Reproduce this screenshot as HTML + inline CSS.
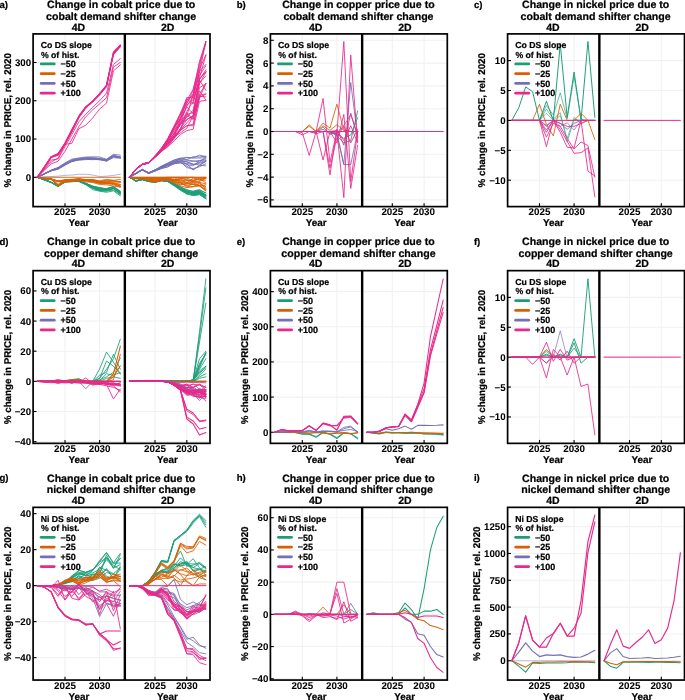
<!DOCTYPE html>
<html><head><meta charset="utf-8"><style>
html,body{margin:0;padding:0;background:#fff;}
svg{display:block;will-change:transform;text-rendering:geometricPrecision;}
</style></head><body>
<svg width="685" height="700" viewBox="0 0 685 700">
<rect width="685" height="700" fill="#fff"/>
<g transform="translate(0,0)">
<line x1="33.1" x2="210" y1="177.3" y2="177.3" stroke="#F1F1F1" stroke-width="1.1"/>
<line x1="33.1" x2="210" y1="139.03" y2="139.03" stroke="#F1F1F1" stroke-width="1.1"/>
<line x1="33.1" x2="210" y1="100.76" y2="100.76" stroke="#F1F1F1" stroke-width="1.1"/>
<line x1="33.1" x2="210" y1="62.49" y2="62.49" stroke="#F1F1F1" stroke-width="1.1"/>
<line x1="65" x2="65" y1="33.9" y2="206.6" stroke="#F1F1F1" stroke-width="1.1"/>
<line x1="155" x2="155" y1="33.9" y2="206.6" stroke="#F1F1F1" stroke-width="1.1"/>
<line x1="99.6" x2="99.6" y1="33.9" y2="206.6" stroke="#F1F1F1" stroke-width="1.1"/>
<line x1="186.8" x2="186.8" y1="33.9" y2="206.6" stroke="#F1F1F1" stroke-width="1.1"/>
<g fill="none" stroke-linejoin="round" stroke-linecap="round">
<polyline points="37.32,177.3 44.24,179.5 51.16,182.23 58.08,186 65,181.5 71.92,181.03 78.84,181.08 85.76,183.32 92.68,186.5 99.6,187.74 106.52,188.8 113.44,186.81 120.36,191.95" stroke="#1B9E77" stroke-width="0.86"/>
<polyline points="37.32,177.3 44.24,179.84 51.16,182.32 58.08,186.21 65,181.95 71.92,181.24 78.84,181.25 85.76,183.92 92.68,188.14 99.6,190.31 106.52,190.18 113.44,188.75 120.36,193.9" stroke="#1B9E77" stroke-width="0.86"/>
<polyline points="37.32,177.3 44.24,179.81 51.16,182.41 58.08,186.25 65,181.73 71.92,181.28 78.84,181.22 85.76,183.86 92.68,188.28 99.6,190.59 106.52,191.06 113.44,188.07 120.36,193.57" stroke="#1B9E77" stroke-width="0.86"/>
<polyline points="37.32,177.3 44.24,179.63 51.16,182.39 58.08,185.92 65,181.6 71.92,180.89 78.84,181.06 85.76,183.64 92.68,186.44 99.6,187.45 106.52,189.19 113.44,188.44 120.36,192.89" stroke="#1B9E77" stroke-width="0.86"/>
<polyline points="37.32,177.3 44.24,179.6 51.16,182.33 58.08,185.91 65,181.35 71.92,180.93 78.84,181.09 85.76,183.76 92.68,186.73 99.6,189.54 106.52,189.46 113.44,188.3 120.36,192.85" stroke="#1B9E77" stroke-width="0.86"/>
<polyline points="37.32,177.3 44.24,179.62 51.16,182.29 58.08,185.86 65,181.63 71.92,181.19 78.84,181.05 85.76,184.58 92.68,188.05 99.6,189.71 106.52,190.69 113.44,188.51 120.36,193.64" stroke="#1B9E77" stroke-width="0.86"/>
<polyline points="37.32,177.3 44.24,180.08 51.16,182.72 58.08,186.77 65,182.13 71.92,181.61 78.84,181.58 85.76,184.62 92.68,189.66 99.6,191.14 106.52,192.32 113.44,190.83 120.36,195.93" stroke="#1B9E77" stroke-width="0.86"/>
<polyline points="37.32,177.3 44.24,179.69 51.16,182.35 58.08,186.3 65,181.96 71.92,181.54 78.84,181.38 85.76,184.38 92.68,187.8 99.6,190.81 106.52,191.02 113.44,190.14 120.36,194.73" stroke="#1B9E77" stroke-width="0.86"/>
<polyline points="37.32,177.3 44.24,179.58 51.16,182.15 58.08,185.65 65,181.6 71.92,180.91 78.84,181.13 85.76,183.59 92.68,186.08 99.6,188.17 106.52,188.95 113.44,187.1 120.36,192.29" stroke="#1B9E77" stroke-width="0.86"/>
<polyline points="37.32,177.3 44.24,179.65 51.16,182.25 58.08,186.03 65,181.62 71.92,180.98 78.84,180.82 85.76,183.29 92.68,186.65 99.6,188.91 106.52,190.06 113.44,188.7 120.36,192.63" stroke="#1B9E77" stroke-width="0.86"/>
<polyline points="37.32,177.3 44.24,179.64 51.16,182.23 58.08,185.62 65,181.14 71.92,180.84 78.84,180.8 85.76,183.62 92.68,187.41 99.6,188.71 106.52,188.85 113.44,186.28 120.36,191.07" stroke="#1B9E77" stroke-width="0.86"/>
<polyline points="37.32,177.3 44.24,179.61 51.16,182.34 58.08,185.92 65,181.1 71.92,180.68 78.84,180.91 85.76,183.24 92.68,186 99.6,188.58 106.52,188.38 113.44,187.27 120.36,191.53" stroke="#1B9E77" stroke-width="0.86"/>
<polyline points="37.32,177.3 44.24,178.13 51.16,178.41 58.08,184.24 65,179.71 71.92,179.31 78.84,178.62 85.76,179.49 92.68,179.44 99.6,180.86 106.52,179.31 113.44,180.32 120.36,179.43" stroke="#D95F02" stroke-width="0.86"/>
<polyline points="37.32,177.3 44.24,178.54 51.16,179.28 58.08,185.74 65,181.1 71.92,180.63 78.84,179.87 85.76,180.84 92.68,181.26 99.6,183.28 106.52,182.27 113.44,183.94 120.36,185.99" stroke="#D95F02" stroke-width="0.86"/>
<polyline points="37.32,177.3 44.24,178.45 51.16,179.01 58.08,185.92 65,181.18 71.92,180.64 78.84,179.86 85.76,180.17 92.68,180.97 99.6,182.45 106.52,183.27 113.44,183.25 120.36,186.26" stroke="#D95F02" stroke-width="0.86"/>
<polyline points="37.32,177.3 44.24,178.58 51.16,179.44 58.08,185.96 65,181.98 71.92,181.71 78.84,180.66 85.76,181.87 92.68,182.51 99.6,184.5 106.52,184.89 113.44,186.02 120.36,187.2" stroke="#D95F02" stroke-width="0.86"/>
<polyline points="37.32,177.3 44.24,178.46 51.16,179.06 58.08,185.19 65,180.67 71.92,180.05 78.84,179 85.76,179.86 92.68,180.21 99.6,181.42 106.52,180.82 113.44,181.1 120.36,182.4" stroke="#D95F02" stroke-width="0.86"/>
<polyline points="37.32,177.3 44.24,178.33 51.16,178.74 58.08,184.93 65,180.32 71.92,179.8 78.84,178.77 85.76,180.08 92.68,179.98 99.6,181.39 106.52,180.3 113.44,180.46 120.36,182.14" stroke="#D95F02" stroke-width="0.86"/>
<polyline points="37.32,177.3 44.24,178.6 51.16,179.63 58.08,181.82 65,181.66 71.92,181.07 78.84,180.22 85.76,180.68 92.68,181.63 99.6,183.05 106.52,183.5 113.44,184.67 120.36,186.93" stroke="#D95F02" stroke-width="0.86"/>
<polyline points="37.32,177.3 44.24,178.59 51.16,179.36 58.08,181.68 65,180.56 71.92,180.78 78.84,180.28 85.76,181 92.68,181.91 99.6,183.5 106.52,183.95 113.44,183.37 120.36,186.08" stroke="#D95F02" stroke-width="0.86"/>
<polyline points="37.32,177.3 44.24,178.29 51.16,178.9 58.08,181.08 65,179.72 71.92,180.33 78.84,179.62 85.76,180.17 92.68,179.74 99.6,182.03 106.52,182.97 113.44,182.7 120.36,184.51" stroke="#D95F02" stroke-width="0.86"/>
<polyline points="37.32,177.3 44.24,178.47 51.16,179.1 58.08,181.31 65,180.29 71.92,180.09 78.84,179.55 85.76,180.55 92.68,180.79 99.6,182.29 106.52,182.76 113.44,183.62 120.36,184.41" stroke="#D95F02" stroke-width="0.86"/>
<polyline points="37.32,177.3 44.24,178.46 51.16,179.09 58.08,181.17 65,180.86 71.92,180.23 78.84,179.51 85.76,180.55 92.68,180.58 99.6,182.13 106.52,181.82 113.44,182.09 120.36,181.76" stroke="#D95F02" stroke-width="0.86"/>
<polyline points="37.32,177.3 44.24,178.2 51.16,178.86 58.08,180.96 65,179.92 71.92,180.39 78.84,179.52 85.76,179.88 92.68,179.8 99.6,181.38 106.52,181.86 113.44,180.92 120.36,181.7" stroke="#D95F02" stroke-width="0.86"/>
<polyline points="37.32,177.3 120.36,177.3" stroke="#D95F02" stroke-width="0.86"/>
<polyline points="37.32,177.3 44.24,173.86 51.16,170.29 58.08,168.03 65,163.89 71.92,159.76 78.84,158.49 85.76,157.92 92.68,157.75 99.6,158.3 106.52,159.74 113.44,155.46 120.36,157.11" stroke="#7570B3" stroke-width="0.86"/>
<polyline points="37.32,177.3 44.24,173.99 51.16,170.77 58.08,168.95 65,164.76 71.92,161.09 78.84,159.5 85.76,158.58 92.68,158.98 99.6,159.51 106.52,160.43 113.44,155.94 120.36,157.49" stroke="#7570B3" stroke-width="0.86"/>
<polyline points="37.32,177.3 44.24,174 51.16,170.86 58.08,168.99 65,164.35 71.92,161.6 78.84,159.39 85.76,158.44 92.68,158.57 99.6,159.14 106.52,160.16 113.44,155.71 120.36,157.18" stroke="#7570B3" stroke-width="0.86"/>
<polyline points="37.32,177.3 44.24,174.01 51.16,170.65 58.08,168.69 65,164.21 71.92,161.49 78.84,160.06 85.76,159.3 92.68,159.69 99.6,159.28 106.52,161.32 113.44,156.82 120.36,157.91" stroke="#7570B3" stroke-width="0.86"/>
<polyline points="37.32,177.3 44.24,173.63 51.16,170.05 58.08,167.34 65,162.89 71.92,159.07 78.84,157.96 85.76,157.04 92.68,156.82 99.6,156.96 106.52,159.25 113.44,154.27 120.36,155.22" stroke="#7570B3" stroke-width="0.86"/>
<polyline points="37.32,177.3 44.24,173.94 51.16,170.37 58.08,168.16 65,164.2 71.92,160.88 78.84,159.4 85.76,158.66 92.68,158.91 99.6,158.79 106.52,160.86 113.44,157.7 120.36,158.17" stroke="#7570B3" stroke-width="0.86"/>
<polyline points="37.32,177.3 44.24,173.88 51.16,170.47 58.08,168.14 65,163.65 71.92,160.54 78.84,159.16 85.76,157.67 92.68,157.79 99.6,159.14 106.52,159.44 113.44,155.34 120.36,157.02" stroke="#7570B3" stroke-width="0.86"/>
<polyline points="37.32,177.3 44.24,174.05 51.16,170.89 58.08,169.2 65,165.37 71.92,161.28 78.84,159.96 85.76,159.65 92.68,159.15 99.6,159.87 106.52,160.73 113.44,156.25 120.36,157.74" stroke="#7570B3" stroke-width="0.86"/>
<polyline points="37.32,177.3 44.24,173.94 51.16,170.44 58.08,167.87 65,163.72 71.92,160.51 78.84,159.1 85.76,158.58 92.68,158.71 99.6,159.4 106.52,160.66 113.44,156.37 120.36,157.87" stroke="#7570B3" stroke-width="0.86"/>
<polyline points="37.32,177.3 58.08,176.15 65,175.39 71.92,175 78.84,174.24 85.76,174.24 92.68,175 99.6,176.53 106.52,176.15 113.44,175.39 120.36,174.24" stroke="#7570B3" stroke-width="0.86" stroke-opacity="0.6"/>
<polyline points="37.32,177.3 44.24,167.37 51.16,156.94 58.08,153.95 65,143.27 71.92,129.63 78.84,116.73 85.76,107.16 92.68,101.01 99.6,94.33 106.52,85.75 113.44,52.95 120.36,45.02" stroke="#E7298A" stroke-width="1.03"/>
<polyline points="37.32,177.3 44.24,166.99 51.16,156.88 58.08,153.96 65,143.45 71.92,130.46 78.84,115.88 85.76,106.62 92.68,101.06 99.6,93.61 106.52,85.18 113.44,53.09 120.36,45.54" stroke="#E7298A" stroke-width="1.03"/>
<polyline points="37.32,177.3 44.24,167.57 51.16,157.39 58.08,154.23 65,144.1 71.92,131.63 78.84,117.79 85.76,107.58 92.68,101.58 99.6,93.96 106.52,86.43 113.44,54.54 120.36,46.53" stroke="#E7298A" stroke-width="1.03"/>
<polyline points="37.32,177.3 44.24,167.56 51.16,157.3 58.08,154.86 65,144.32 71.92,130.92 78.84,117.27 85.76,108.05 92.68,101.06 99.6,94.9 106.52,86.35 113.44,53.68 120.36,46.23" stroke="#E7298A" stroke-width="1.03"/>
<polyline points="37.32,177.3 44.24,167.55 51.16,157.5 58.08,155.29 65,143.88 71.92,131.34 78.84,116.98 85.76,107.47 92.68,101.29 99.6,94.14 106.52,85.77 113.44,53.43 120.36,46.7" stroke="#E7298A" stroke-width="1.03"/>
<polyline points="37.32,177.3 44.24,167.22 51.16,156.64 58.08,153.52 65,143.04 71.92,129.28 78.84,116.82 85.76,107.33 92.68,101.92 99.6,94.03 106.52,85.45 113.44,51.91 120.36,44.92" stroke="#E7298A" stroke-width="1.03"/>
<polyline points="37.32,177.3 44.24,168.88 51.16,160.08 58.08,158.93 71.92,134.44 78.84,121.81 85.76,114.15 92.68,107.27 99.6,100.76 106.52,93.11 113.44,64.4 120.36,58.66" stroke="#E7298A" stroke-width="0.86"/>
<polyline points="37.32,177.3 44.24,170.41 51.16,163.91 58.08,161.23 65,151.28 78.84,126.78 85.76,116.83 92.68,109.94 106.52,97.7 113.44,67.08 120.36,62.49" stroke="#E7298A" stroke-width="0.86"/>
<polyline points="37.32,177.3 51.16,161.99 58.08,158.17 65,144.39 71.92,143.24 78.84,128.7 85.76,125.25 92.68,117.98 99.6,109.18 106.52,103.06 113.44,70.91 120.36,64.79" stroke="#E7298A" stroke-width="0.86"/>
<polyline points="129.56,177.3 135.92,181.13 142.28,179.6 148.64,181.49 155,182.28 161.36,180.74 167.72,181.51 174.08,185.7 180.44,190.17 186.8,194.14 193.16,195.66 199.52,194.44 205.88,198.79" stroke="#1B9E77" stroke-width="0.86"/>
<polyline points="129.56,177.3 135.92,180.95 142.28,179.59 148.64,181.51 155,182.28 161.36,180.68 167.72,181.44 174.08,185.67 180.44,190.11 186.8,193.63 193.16,194.88 199.52,193.65 205.88,198.84" stroke="#1B9E77" stroke-width="0.86"/>
<polyline points="129.56,177.3 135.92,181.13 142.28,179.58 148.64,181.5 155,182.19 161.36,180.73 167.72,181.46 174.08,183.92 180.44,188.78 186.8,193.45 193.16,195.11 199.52,194.74 205.88,198.37" stroke="#1B9E77" stroke-width="0.86"/>
<polyline points="129.56,177.3 135.92,181.04 142.28,179.58 148.64,181.4 155,182.18 161.36,180.37 167.72,181.41 174.08,184.9 180.44,189.61 186.8,192.55 193.16,195.15 199.52,193.01 205.88,198.29" stroke="#1B9E77" stroke-width="0.86"/>
<polyline points="129.56,177.3 135.92,181.1 142.28,179.5 148.64,181.38 155,182.18 161.36,180.28 167.72,181.3 174.08,185.2 180.44,189.37 186.8,192.58 193.16,193.28 199.52,192.93 205.88,197.19" stroke="#1B9E77" stroke-width="0.86"/>
<polyline points="129.56,177.3 135.92,180.96 142.28,179.37 148.64,181.32 155,181.68 161.36,180.38 167.72,181.16 174.08,184.69 180.44,188.68 186.8,191.28 193.16,194.25 199.52,193.55 205.88,195.26" stroke="#1B9E77" stroke-width="0.86"/>
<polyline points="129.56,177.3 135.92,180.9 142.28,179.46 148.64,181.37 155,181.68 161.36,180.43 167.72,181.21 174.08,183.93 180.44,189.1 186.8,191.74 193.16,193.51 199.52,192.55 205.88,197.45" stroke="#1B9E77" stroke-width="0.86"/>
<polyline points="129.56,177.3 135.92,180.98 142.28,179.36 148.64,181.25 155,181.75 161.36,180.57 167.72,181.23 174.08,184.29 180.44,188.32 186.8,190.78 193.16,194.07 199.52,192.23 205.88,195.62" stroke="#1B9E77" stroke-width="0.86"/>
<polyline points="129.56,177.3 135.92,180.92 142.28,179.26 148.64,181.33 155,181.76 161.36,180.38 167.72,181.05 174.08,184.12 180.44,187.97 186.8,191.63 193.16,193.19 199.52,192.43 205.88,195.18" stroke="#1B9E77" stroke-width="0.86"/>
<polyline points="129.56,177.3 135.92,180.85 142.28,179.28 148.64,181.24 155,181.52 161.36,180.48 167.72,181.12 174.08,184.32 180.44,188.47 186.8,190.91 193.16,193.07 199.52,190.97 205.88,195.41" stroke="#1B9E77" stroke-width="0.86"/>
<polyline points="129.56,177.3 135.92,180.85 142.28,179.38 148.64,181.19 155,181.37 161.36,180.14 167.72,180.74 174.08,184.58 180.44,188.37 186.8,191.85 193.16,192.83 199.52,191.43 205.88,194.82" stroke="#1B9E77" stroke-width="0.86"/>
<polyline points="129.56,177.3 135.92,180.87 142.28,179.44 148.64,181.13 155,181.34 161.36,180.33 167.72,180.89 174.08,184.27 180.44,186.87 186.8,189.78 193.16,191.68 199.52,190.86 205.88,196.5" stroke="#1B9E77" stroke-width="0.86"/>
<polyline points="129.56,177.3 135.92,180.9 142.28,179.23 148.64,181.22 155,181.46 161.36,180.33 167.72,180.79 174.08,183.77 180.44,187.16 186.8,191.61 193.16,192.68 199.52,190.9 205.88,194.99" stroke="#1B9E77" stroke-width="0.86"/>
<polyline points="129.56,177.3 135.92,180.74 142.28,179.21 148.64,181.13 155,181.26 161.36,180.07 167.72,180.93 174.08,183.36 180.44,187.89 186.8,191.23 193.16,191.08 199.52,189.55 205.88,192.99" stroke="#1B9E77" stroke-width="0.86"/>
<polyline points="129.56,177.3 135.92,180.81 142.28,179.23 148.64,181.13 155,181.44 161.36,180.03 167.72,180.74 174.08,183.36 180.44,186.87 186.8,189.8 193.16,191.58 199.52,190.38 205.88,192.99" stroke="#1B9E77" stroke-width="0.86"/>
<polyline points="129.56,177.3 135.92,178.83 142.28,178.78 148.64,180.63 155,182.28 161.36,180.36 167.72,180.02 174.08,183.04 180.44,185.72 186.8,187.63 199.52,186.1 205.88,191.08" stroke="#D95F02" stroke-width="0.86"/>
<polyline points="129.56,177.3 135.92,178.39 142.28,178.57 148.64,179.87 155,181.23 161.36,180.59 167.72,179.58 174.08,182.24 180.44,184.89 186.8,183.17 193.16,184.5 199.52,185.59 205.88,189.43" stroke="#D95F02" stroke-width="0.86"/>
<polyline points="129.56,177.3 135.92,178.63 142.28,178.68 148.64,180.11 155,181.73 161.36,179.39 167.72,179.38 174.08,180.76 180.44,183.31 186.8,185.27 193.16,184.38 199.52,185.57 205.88,190.76" stroke="#D95F02" stroke-width="0.86"/>
<polyline points="129.56,177.3 135.92,178.59 142.28,178.53 148.64,180.25 155,182.28 161.36,179.16 167.72,179.72 174.08,182.16 180.44,182.74 186.8,185.99 193.16,186.55 199.52,183.25 205.88,186.76" stroke="#D95F02" stroke-width="0.86"/>
<polyline points="129.56,177.3 135.92,178.5 142.28,178.52 148.64,179.92 155,180.55 161.36,180.18 167.72,179.75 174.08,181.35 180.44,184.26 186.8,183.79 193.16,183.84 199.52,184.01 205.88,188.09" stroke="#D95F02" stroke-width="0.86"/>
<polyline points="129.56,177.3 135.92,178.24 142.28,178.34 148.64,180 155,179.64 161.36,178.83 167.72,178.98 174.08,180.58 180.44,181.38 186.8,187.4 193.16,182.53 199.52,185.88 205.88,184.99" stroke="#D95F02" stroke-width="0.86"/>
<polyline points="129.56,177.3 135.92,178.4 142.28,178.22 148.64,178.95 155,180.2 161.36,179.27 167.72,179.11 174.08,179.06 180.44,182.54 186.8,182.14 193.16,182.27 199.52,182.23 205.88,189.39" stroke="#D95F02" stroke-width="0.86"/>
<polyline points="129.56,177.3 135.92,178.23 142.28,178.19 148.64,179.56 155,178.63 161.36,178.46 167.72,179.23 174.08,179.71 180.44,179.5 186.8,184.03 193.16,181.25 199.52,181.45 205.88,178.41" stroke="#D95F02" stroke-width="0.86"/>
<polyline points="129.56,177.3 135.92,177.99 142.28,178.02 148.64,179.31 155,178.64 161.36,178.81 167.72,178.69 174.08,180.74 180.44,180.25 186.8,179.96 193.16,180.98 199.52,178.62 205.88,182.88" stroke="#D95F02" stroke-width="0.86"/>
<polyline points="129.56,177.3 135.92,178.15 142.28,177.97 148.64,179.92 155,178.33 161.36,179.03 167.72,178.47 174.08,177.3 180.44,181.44 186.8,180.36 193.16,181.72 199.52,182.41 205.88,183.87" stroke="#D95F02" stroke-width="0.86"/>
<polyline points="129.56,177.3 135.92,178.04 142.28,178.15 148.64,178.23 155,178.91 161.36,178.17 167.72,178.28 174.08,180.49 180.44,178.53 186.8,182.95 193.16,178.1 199.52,180.29 205.88,180.12" stroke="#D95F02" stroke-width="0.86"/>
<polyline points="129.56,177.3 135.92,178.01 142.28,177.8 148.64,178.07 155,179.07 161.36,178.71 167.72,178.1 174.08,177.74 180.44,177.95 186.8,179.93 193.16,180.66 199.52,179.1 205.88,178.06" stroke="#D95F02" stroke-width="0.86"/>
<polyline points="129.56,177.3 135.92,177.91 142.28,177.7 148.64,178.21 155,178.64 161.36,178.55 167.72,178.26 174.08,179.71 180.44,178.55 186.8,178.3 193.16,180.04 199.52,178.29 205.88,177.7" stroke="#D95F02" stroke-width="0.86"/>
<polyline points="129.56,177.3 135.92,177.73 142.28,177.68 148.64,178.16 155,177.95 161.36,177.75 167.72,177.3 174.08,177.32 180.44,177.3 193.16,177.3 199.52,179.8 205.88,178.04" stroke="#D95F02" stroke-width="0.86"/>
<polyline points="129.56,177.3 205.88,177.3" stroke="#D95F02" stroke-width="0.86"/>
<polyline points="129.56,177.3 205.88,177.3" stroke="#D95F02" stroke-width="0.86"/>
<polyline points="129.56,177.3 135.92,173.86 142.28,169.97 148.64,173.47 155,171.13 161.36,168.61 167.72,166.76 174.08,163.48 180.44,162.43 186.8,166.16 193.16,169.79 199.52,165.31 205.88,165.82" stroke="#7570B3" stroke-width="0.86"/>
<polyline points="129.56,177.3 135.92,173.67 142.28,169.93 148.64,173.24 155,170.62 161.36,168.28 167.72,166.97 174.08,163.58 180.44,163.14 186.8,163.84 193.16,169.85 199.52,165.64 205.88,161.36" stroke="#7570B3" stroke-width="0.86"/>
<polyline points="129.56,177.3 135.92,173.85 142.28,169.98 148.64,173.27 155,171.05 161.36,168.2 167.72,165.42 174.08,162.9 180.44,161.5 186.8,167.73 193.16,168.62 199.52,166.71 205.88,163.69" stroke="#7570B3" stroke-width="0.86"/>
<polyline points="129.56,177.3 135.92,173.7 142.28,169.78 148.64,173.21 155,170.46 161.36,168.1 167.72,165.2 174.08,163.86 180.44,162.13 186.8,163.46 193.16,164.59 199.52,163.35 205.88,161.48" stroke="#7570B3" stroke-width="0.86"/>
<polyline points="129.56,177.3 135.92,173.56 142.28,169.93 148.64,173.44 155,170.93 161.36,167.54 167.72,165.49 174.08,163.16 180.44,160.57 186.8,161.97 193.16,164.09 199.52,165.02 205.88,161.22" stroke="#7570B3" stroke-width="0.86"/>
<polyline points="129.56,177.3 135.92,173.34 142.28,169.8 148.64,173.04 155,170.02 161.36,168.06 167.72,164.51 174.08,161.3 180.44,159.27 186.8,164.8 193.16,165.88 199.52,160.75 205.88,158.57" stroke="#7570B3" stroke-width="0.86"/>
<polyline points="129.56,177.3 135.92,173.5 142.28,169.63 148.64,173.16 155,170.39 161.36,167.21 167.72,165.02 174.08,162.5 180.44,160.42 186.8,161.59 193.16,164.62 199.52,162.36 205.88,160.48" stroke="#7570B3" stroke-width="0.86"/>
<polyline points="129.56,177.3 135.92,173.41 142.28,169.52 148.64,172.71 155,170.22 161.36,166.99 167.72,164.29 174.08,161.97 180.44,159.09 186.8,159.86 193.16,160.88 199.52,161.96 205.88,156.99" stroke="#7570B3" stroke-width="0.86"/>
<polyline points="129.56,177.3 135.92,173.23 142.28,169.38 148.64,172.99 155,170.49 161.36,167 167.72,164.46 174.08,161.44 180.44,161.46 186.8,160.87 193.16,161.34 199.52,160.43 205.88,159.93" stroke="#7570B3" stroke-width="0.86"/>
<polyline points="129.56,177.3 135.92,173.36 142.28,169.5 148.64,172.88 155,169.81 161.36,166.72 167.72,163.52 174.08,160.47 180.44,159.14 186.8,157.57 193.16,158.04 199.52,158 205.88,157.68" stroke="#7570B3" stroke-width="0.86"/>
<polyline points="129.56,177.3 135.92,173.09 142.28,169.45 148.64,172.83 155,169.88 161.36,166.2 174.08,160.08 180.44,158.17 186.8,157.4 193.16,157.87 199.52,155.1 205.88,156.66" stroke="#7570B3" stroke-width="0.86"/>
<polyline points="129.56,177.3 135.92,173.23 142.28,169.26 148.64,172.71 155,170.25 161.36,166.2 167.72,163.23 174.08,160.08 180.44,158.17 186.8,159.62 193.16,156.63 199.52,156.88 205.88,156.14" stroke="#7570B3" stroke-width="0.86"/>
<polyline points="129.56,177.3 135.92,169.65 142.28,164.6 148.64,163.14 155,157.4 161.36,150.97 167.72,146.68 174.08,140.94 180.44,134.44 186.8,130.61 193.16,129.23 199.52,101.53 205.88,100.16" stroke="#E7298A" stroke-width="0.86"/>
<polyline points="129.56,177.3 135.92,169.61 142.28,164.46 148.64,163.13 155,157.39 161.36,151.66 167.72,146.66 174.08,138.52 180.44,129.97 186.8,125.91 193.16,124.08 199.52,96.35 205.88,96.96" stroke="#E7298A" stroke-width="0.86"/>
<polyline points="129.56,177.3 135.92,169.39 142.28,164.67 148.64,163 155,157.01 161.36,151.66 167.72,144.59 174.08,137.16 180.44,132.81 186.8,128.2 193.16,115.74 199.52,90.93 205.88,100.1" stroke="#E7298A" stroke-width="0.86"/>
<polyline points="129.56,177.3 135.92,169.5 142.28,164.39 148.64,163.07 155,157.17 161.36,151.06 167.72,145.8 174.08,138.52 180.44,130.56 186.8,125.47 193.16,125.82 199.52,97.49 205.88,94.17" stroke="#E7298A" stroke-width="0.86"/>
<polyline points="129.56,177.3 135.92,169.6 142.28,164.62 148.64,162.96 155,157.32 161.36,150.76 167.72,144.06 174.08,136.41 180.44,129.72 186.8,115.5 193.16,119.53 199.52,94.19 205.88,83.61" stroke="#E7298A" stroke-width="0.86"/>
<polyline points="129.56,177.3 135.92,169.31 142.28,164.46 148.64,162.86 155,157.09 161.36,151.11 167.72,143.52 174.08,135.43 180.44,129.87 186.8,122.93 193.16,116.06 199.52,95.31 205.88,93.78" stroke="#E7298A" stroke-width="0.86"/>
<polyline points="129.56,177.3 135.92,169.41 142.28,164.56 148.64,162.68 155,157.1 161.36,150.86 167.72,143.43 174.08,137.03 180.44,128.4 186.8,119.79 193.16,115.68 199.52,87.64 205.88,83.8" stroke="#E7298A" stroke-width="0.86"/>
<polyline points="129.56,177.3 135.92,169.39 142.28,164.3 148.64,162.82 155,156.97 161.36,150.5 167.72,144.89 174.08,138.01 180.44,128.71 186.8,112.82 193.16,118.86 199.52,97.59 205.88,83.59" stroke="#E7298A" stroke-width="0.86"/>
<polyline points="129.56,177.3 135.92,169.2 142.28,164.53 148.64,162.9 155,156.98 161.36,149.52 167.72,144.09 174.08,135.71 180.44,123.71 186.8,119.51 193.16,115.83 199.52,83.19 205.88,75.89" stroke="#E7298A" stroke-width="0.86"/>
<polyline points="129.56,177.3 135.92,169.27 142.28,164.28 148.64,162.92 155,156.66 161.36,150.69 167.72,141.82 174.08,133.88 180.44,122.67 186.8,117.59 193.16,110.01 199.52,83.61 205.88,72.2" stroke="#E7298A" stroke-width="0.86"/>
<polyline points="129.56,177.3 135.92,169.17 142.28,164.28 148.64,162.64 155,156.76 161.36,150.32 167.72,141.29 174.08,134.21 180.44,124.87 186.8,114.49 193.16,112.6 199.52,80.1 205.88,90.32" stroke="#E7298A" stroke-width="0.86"/>
<polyline points="129.56,177.3 135.92,169.11 142.28,164.21 148.64,162.63 155,156.68 161.36,149.15 167.72,141.05 174.08,137.16 180.44,119.83 186.8,106.83 193.16,113.92 199.52,78.53 205.88,71.48" stroke="#E7298A" stroke-width="0.86"/>
<polyline points="129.56,177.3 135.92,169.16 142.28,164.32 148.64,162.62 155,156.32 161.36,149.67 167.72,141.6 174.08,133.75 180.44,124.25 186.8,111.44 193.16,101.41 199.52,79.1 205.88,72.14" stroke="#E7298A" stroke-width="0.86"/>
<polyline points="129.56,177.3 135.92,169.13 142.28,164.22 148.64,162.48 155,156.52 161.36,148.96 167.72,142.87 174.08,132.94 180.44,120.1 186.8,115.74 193.16,94.57 199.52,75.21 205.88,65.91" stroke="#E7298A" stroke-width="0.86"/>
<polyline points="129.56,177.3 135.92,169.27 142.28,164.05 148.64,162.65 155,156.27 161.36,149.73 167.72,140.72 174.08,130.34 180.44,123.18 186.8,105.45 193.16,99.6 199.52,79.41 205.88,69.89" stroke="#E7298A" stroke-width="0.86"/>
<polyline points="129.56,177.3 135.92,169.11 142.28,164.12 148.64,162.54 155,156.49 161.36,149.64 167.72,140.02 174.08,128.46 180.44,118.25 186.8,106.32 193.16,96.04 199.52,71.21 205.88,64.4" stroke="#E7298A" stroke-width="0.86"/>
<polyline points="129.56,177.3 135.92,169.17 142.28,163.98 148.64,162.56 155,156.39 161.36,149.69 167.72,140.37 174.08,130.97 180.44,118.11 186.8,98.71 193.16,104.2 199.52,77.49 205.88,55.15" stroke="#E7298A" stroke-width="0.86"/>
<polyline points="129.56,177.3 135.92,169.13 142.28,163.98 148.64,162.68 155,156.13 161.36,149.19 167.72,139 174.08,127.01 180.44,119.29 186.8,100.48 193.16,89.11 199.52,63.09 205.88,43.07" stroke="#E7298A" stroke-width="0.86"/>
<polyline points="129.56,177.3 135.92,169.08 142.28,163.97 148.64,162.41 155,156.22 161.36,149.24 167.72,140.35 174.08,128.74 180.44,115.15 186.8,102.73 193.16,94.01 199.52,69.26 205.88,54.77" stroke="#E7298A" stroke-width="0.86"/>
<polyline points="129.56,177.3 135.92,169.15 142.28,164.11 148.64,162.51 155,155.9 161.36,149.22 167.72,139.17 174.08,127.74 180.44,113.89 186.8,97.51 193.16,97.84 199.52,71.97 205.88,41.44" stroke="#E7298A" stroke-width="0.86"/>
<polyline points="129.56,177.3 135.92,168.92 142.28,164.01 148.64,162.37 155,155.89 161.36,148.21 167.72,138.59 174.08,126.32 180.44,113.1 186.8,100.45 193.16,94.59 199.52,61.34 205.88,41.44" stroke="#E7298A" stroke-width="0.86"/>
<polyline points="129.56,177.3 135.92,168.88 142.28,164.08 148.64,162.37 155,155.87 161.36,148.21 167.72,139.19 174.08,126.1 180.44,114.59 186.8,103.88 193.16,90.31 199.52,66.78 205.88,41.44" stroke="#E7298A" stroke-width="0.86"/>
</g>
<text x="40.7" y="48.1" font-size="8.7" font-family="Liberation Sans, sans-serif" font-weight="bold" stroke="#000" stroke-width="0.22">Co DS slope</text>
<text x="40.9" y="57.5" font-size="8.7" font-family="Liberation Sans, sans-serif" font-weight="bold" stroke="#000" stroke-width="0.22">% of hist.</text>
<line x1="41.2" x2="54.2" y1="63.9" y2="63.9" stroke="#1B9E77" stroke-width="2.9" stroke-linecap="round"/>
<text x="60.5" y="67.1" font-size="9.0" font-family="Liberation Sans, sans-serif" font-weight="bold" stroke="#000" stroke-width="0.22">−50</text>
<line x1="41.2" x2="54.2" y1="73.65" y2="73.65" stroke="#D95F02" stroke-width="2.9" stroke-linecap="round"/>
<text x="60.5" y="76.85" font-size="9.0" font-family="Liberation Sans, sans-serif" font-weight="bold" stroke="#000" stroke-width="0.22">−25</text>
<line x1="41.2" x2="54.2" y1="83.4" y2="83.4" stroke="#7570B3" stroke-width="2.9" stroke-linecap="round"/>
<text x="60.5" y="86.6" font-size="9.0" font-family="Liberation Sans, sans-serif" font-weight="bold" stroke="#000" stroke-width="0.22">+50</text>
<line x1="41.2" x2="54.2" y1="93.15" y2="93.15" stroke="#E7298A" stroke-width="2.9" stroke-linecap="round"/>
<text x="60.5" y="96.35" font-size="9.0" font-family="Liberation Sans, sans-serif" font-weight="bold" stroke="#000" stroke-width="0.22">+100</text>
<rect x="33.1" y="33.9" width="176.9" height="172.7" fill="none" stroke="#000" stroke-width="1.7"/>
<line x1="124.85" x2="124.85" y1="33.9" y2="206.6" stroke="#000" stroke-width="2.4"/>
<line x1="33.1" x2="36.5" y1="177.3" y2="177.3" stroke="#000" stroke-width="1.1"/>
<text x="31.1" y="180.75" font-size="9.7" text-anchor="end" font-family="Liberation Sans, sans-serif" font-weight="bold" stroke="#000" stroke-width="0.05">0</text>
<line x1="33.1" x2="36.5" y1="139.03" y2="139.03" stroke="#000" stroke-width="1.1"/>
<text x="31.1" y="142.48" font-size="9.7" text-anchor="end" font-family="Liberation Sans, sans-serif" font-weight="bold" stroke="#000" stroke-width="0.05">100</text>
<line x1="33.1" x2="36.5" y1="100.76" y2="100.76" stroke="#000" stroke-width="1.1"/>
<text x="31.1" y="104.21" font-size="9.7" text-anchor="end" font-family="Liberation Sans, sans-serif" font-weight="bold" stroke="#000" stroke-width="0.05">200</text>
<line x1="33.1" x2="36.5" y1="62.49" y2="62.49" stroke="#000" stroke-width="1.1"/>
<text x="31.1" y="65.94" font-size="9.7" text-anchor="end" font-family="Liberation Sans, sans-serif" font-weight="bold" stroke="#000" stroke-width="0.05">300</text>
<line x1="65" x2="65" y1="206.6" y2="203.2" stroke="#000" stroke-width="1.1"/>
<text x="65" y="215.2" font-size="9.8" text-anchor="middle" font-family="Liberation Sans, sans-serif" font-weight="bold" stroke="#000" stroke-width="0.05">2025</text>
<line x1="155" x2="155" y1="206.6" y2="203.2" stroke="#000" stroke-width="1.1"/>
<text x="155" y="215.2" font-size="9.8" text-anchor="middle" font-family="Liberation Sans, sans-serif" font-weight="bold" stroke="#000" stroke-width="0.05">2025</text>
<line x1="99.6" x2="99.6" y1="206.6" y2="203.2" stroke="#000" stroke-width="1.1"/>
<text x="99.6" y="215.2" font-size="9.8" text-anchor="middle" font-family="Liberation Sans, sans-serif" font-weight="bold" stroke="#000" stroke-width="0.05">2030</text>
<line x1="186.8" x2="186.8" y1="206.6" y2="203.2" stroke="#000" stroke-width="1.1"/>
<text x="186.8" y="215.2" font-size="9.8" text-anchor="middle" font-family="Liberation Sans, sans-serif" font-weight="bold" stroke="#000" stroke-width="0.05">2030</text>
<text x="78.97" y="226.2" font-size="9.9" text-anchor="middle" font-family="Liberation Sans, sans-serif" font-weight="bold" stroke="#000" stroke-width="0.22">Year</text>
<text x="167.43" y="226.2" font-size="9.9" text-anchor="middle" font-family="Liberation Sans, sans-serif" font-weight="bold" stroke="#000" stroke-width="0.22">Year</text>
<text x="78.38" y="30.7" font-size="10.5" text-anchor="middle" font-family="Liberation Sans, sans-serif" font-weight="bold" stroke="#000" stroke-width="0.22">4D</text>
<text x="167.62" y="30.7" font-size="10.5" text-anchor="middle" font-family="Liberation Sans, sans-serif" font-weight="bold" stroke="#000" stroke-width="0.22">2D</text>
<text x="121.15" y="8.1" font-size="10.6" text-anchor="middle" font-family="Liberation Sans, sans-serif" font-weight="bold" stroke="#000" stroke-width="0.22">Change in cobalt price due to</text>
<text x="121.15" y="19.9" font-size="10.6" text-anchor="middle" font-family="Liberation Sans, sans-serif" font-weight="bold" stroke="#000" stroke-width="0.22">cobalt demand shifter change</text>
<text x="-0.6" y="7.8" font-size="9.6" font-family="Liberation Sans, sans-serif" font-weight="bold" stroke="#000" stroke-width="0.22">a)</text>
<text transform="translate(10.81,120.25) rotate(-90)" font-size="9.8" text-anchor="middle" font-family="Liberation Sans, sans-serif" font-weight="bold" stroke="#000" stroke-width="0.22">% change in PRICE, rel. 2020</text>
</g>
<g transform="translate(237.3,0)">
<line x1="33.1" x2="210" y1="199.9" y2="199.9" stroke="#F1F1F1" stroke-width="1.1"/>
<line x1="33.1" x2="210" y1="177.1" y2="177.1" stroke="#F1F1F1" stroke-width="1.1"/>
<line x1="33.1" x2="210" y1="154.3" y2="154.3" stroke="#F1F1F1" stroke-width="1.1"/>
<line x1="33.1" x2="210" y1="131.5" y2="131.5" stroke="#F1F1F1" stroke-width="1.1"/>
<line x1="33.1" x2="210" y1="108.7" y2="108.7" stroke="#F1F1F1" stroke-width="1.1"/>
<line x1="33.1" x2="210" y1="85.9" y2="85.9" stroke="#F1F1F1" stroke-width="1.1"/>
<line x1="33.1" x2="210" y1="63.1" y2="63.1" stroke="#F1F1F1" stroke-width="1.1"/>
<line x1="33.1" x2="210" y1="40.3" y2="40.3" stroke="#F1F1F1" stroke-width="1.1"/>
<line x1="65" x2="65" y1="33.9" y2="206.6" stroke="#F1F1F1" stroke-width="1.1"/>
<line x1="155" x2="155" y1="33.9" y2="206.6" stroke="#F1F1F1" stroke-width="1.1"/>
<line x1="99.6" x2="99.6" y1="33.9" y2="206.6" stroke="#F1F1F1" stroke-width="1.1"/>
<line x1="186.8" x2="186.8" y1="33.9" y2="206.6" stroke="#F1F1F1" stroke-width="1.1"/>
<g fill="none" stroke-linejoin="round" stroke-linecap="round">
<polyline points="37.32,131.5 120.36,131.5" stroke="#1B9E77" stroke-width="0.86"/>
<polyline points="37.32,131.5 120.36,131.5" stroke="#1B9E77" stroke-width="0.86"/>
<polyline points="37.32,131.5 120.36,131.5" stroke="#1B9E77" stroke-width="0.86"/>
<polyline points="37.32,131.5 92.68,131.5 99.6,136.06 106.52,142.9 113.44,140.62 120.36,110.98" stroke="#1B9E77" stroke-width="0.86"/>
<polyline points="37.32,131.5 92.68,131.5 99.6,133.78 106.52,138.34 113.44,134.92 120.36,117.82" stroke="#1B9E77" stroke-width="0.86"/>
<polyline points="37.32,131.5 120.36,131.5" stroke="#D95F02" stroke-width="0.86"/>
<polyline points="37.32,131.5 120.36,131.5" stroke="#D95F02" stroke-width="0.86"/>
<polyline points="37.32,131.5 65,131.5 71.92,124.89 78.84,131.5 85.76,123.06 92.68,128.08 99.6,104.14 106.52,129.79 113.44,131.5 120.36,131.5" stroke="#D95F02" stroke-width="0.86"/>
<polyline points="37.32,131.5 65,131.5 71.92,126.26 78.84,131.5 85.76,125.8 92.68,130.36 99.6,124.66 106.52,130.36 113.44,131.5 120.36,131.5" stroke="#D95F02" stroke-width="0.86"/>
<polyline points="37.32,131.5 120.36,131.5" stroke="#7570B3" stroke-width="0.86"/>
<polyline points="37.32,131.5 120.36,131.5" stroke="#7570B3" stroke-width="0.86"/>
<polyline points="37.32,131.5 78.84,131.5 85.76,129.22 92.68,133.78 99.6,132.64 106.52,164.56 113.44,82.48 120.36,137.2" stroke="#7570B3" stroke-width="0.86"/>
<polyline points="37.32,131.5 71.92,131.5 78.84,132.64 85.76,126.94 92.68,134.35 99.6,132.64 106.52,125.8 113.44,114.4 120.36,134.92" stroke="#7570B3" stroke-width="0.86"/>
<polyline points="37.32,131.5 92.68,131.5 99.6,134.92 106.52,164.56 113.44,164.56 120.36,131.5" stroke="#7570B3" stroke-width="0.86"/>
<polyline points="37.32,131.5 58.08,131.5 65,132.64 71.92,155.44 78.84,131.5 92.68,131.5 99.6,133.78 106.52,41.44 113.44,181.66 120.36,131.5" stroke="#E7298A" stroke-width="0.86"/>
<polyline points="37.32,131.5 78.84,131.5 85.76,98.44 92.68,162.28 99.6,131.5 106.52,197.62 113.44,55.12 120.36,141.76" stroke="#E7298A" stroke-width="0.86"/>
<polyline points="37.32,131.5 78.84,131.5 85.76,160 92.68,131.5 99.6,142.9 106.52,114.4 113.44,188.5 120.36,145.18" stroke="#E7298A" stroke-width="0.86"/>
<polyline points="37.32,131.5 85.76,131.5 92.68,174.82 99.6,129.22 106.52,145.18 113.44,113.26 120.36,137.2" stroke="#E7298A" stroke-width="0.86"/>
<polyline points="37.32,131.5 85.76,131.5 92.68,167.98 99.6,137.2 106.52,125.8 113.44,142.9 120.36,129.22" stroke="#E7298A" stroke-width="0.86"/>
<polyline points="37.32,131.5 58.08,131.5 65,134.92 71.92,131.5 78.84,133.78 85.76,131.5 92.68,131.5 99.6,130.36 106.52,140.62 113.44,125.8 120.36,142.9" stroke="#E7298A" stroke-width="0.86"/>
<polyline points="37.32,131.5 120.36,131.5" stroke="#E7298A" stroke-width="1.03"/>
<polyline points="129.56,131.5 205.88,131.5" stroke="#E7298A" stroke-width="0.98"/>
</g>
<text x="40.7" y="48.1" font-size="8.7" font-family="Liberation Sans, sans-serif" font-weight="bold" stroke="#000" stroke-width="0.22">Co DS slope</text>
<text x="40.9" y="57.5" font-size="8.7" font-family="Liberation Sans, sans-serif" font-weight="bold" stroke="#000" stroke-width="0.22">% of hist.</text>
<line x1="41.2" x2="54.2" y1="63.9" y2="63.9" stroke="#1B9E77" stroke-width="2.9" stroke-linecap="round"/>
<text x="60.5" y="67.1" font-size="9.0" font-family="Liberation Sans, sans-serif" font-weight="bold" stroke="#000" stroke-width="0.22">−50</text>
<line x1="41.2" x2="54.2" y1="73.65" y2="73.65" stroke="#D95F02" stroke-width="2.9" stroke-linecap="round"/>
<text x="60.5" y="76.85" font-size="9.0" font-family="Liberation Sans, sans-serif" font-weight="bold" stroke="#000" stroke-width="0.22">−25</text>
<line x1="41.2" x2="54.2" y1="83.4" y2="83.4" stroke="#7570B3" stroke-width="2.9" stroke-linecap="round"/>
<text x="60.5" y="86.6" font-size="9.0" font-family="Liberation Sans, sans-serif" font-weight="bold" stroke="#000" stroke-width="0.22">+50</text>
<line x1="41.2" x2="54.2" y1="93.15" y2="93.15" stroke="#E7298A" stroke-width="2.9" stroke-linecap="round"/>
<text x="60.5" y="96.35" font-size="9.0" font-family="Liberation Sans, sans-serif" font-weight="bold" stroke="#000" stroke-width="0.22">+100</text>
<rect x="33.1" y="33.9" width="176.9" height="172.7" fill="none" stroke="#000" stroke-width="1.7"/>
<line x1="124.85" x2="124.85" y1="33.9" y2="206.6" stroke="#000" stroke-width="2.4"/>
<line x1="33.1" x2="36.5" y1="199.9" y2="199.9" stroke="#000" stroke-width="1.1"/>
<text x="31.1" y="203.35" font-size="9.7" text-anchor="end" font-family="Liberation Sans, sans-serif" font-weight="bold" stroke="#000" stroke-width="0.05">−6</text>
<line x1="33.1" x2="36.5" y1="177.1" y2="177.1" stroke="#000" stroke-width="1.1"/>
<text x="31.1" y="180.55" font-size="9.7" text-anchor="end" font-family="Liberation Sans, sans-serif" font-weight="bold" stroke="#000" stroke-width="0.05">−4</text>
<line x1="33.1" x2="36.5" y1="154.3" y2="154.3" stroke="#000" stroke-width="1.1"/>
<text x="31.1" y="157.75" font-size="9.7" text-anchor="end" font-family="Liberation Sans, sans-serif" font-weight="bold" stroke="#000" stroke-width="0.05">−2</text>
<line x1="33.1" x2="36.5" y1="131.5" y2="131.5" stroke="#000" stroke-width="1.1"/>
<text x="31.1" y="134.95" font-size="9.7" text-anchor="end" font-family="Liberation Sans, sans-serif" font-weight="bold" stroke="#000" stroke-width="0.05">0</text>
<line x1="33.1" x2="36.5" y1="108.7" y2="108.7" stroke="#000" stroke-width="1.1"/>
<text x="31.1" y="112.15" font-size="9.7" text-anchor="end" font-family="Liberation Sans, sans-serif" font-weight="bold" stroke="#000" stroke-width="0.05">2</text>
<line x1="33.1" x2="36.5" y1="85.9" y2="85.9" stroke="#000" stroke-width="1.1"/>
<text x="31.1" y="89.35" font-size="9.7" text-anchor="end" font-family="Liberation Sans, sans-serif" font-weight="bold" stroke="#000" stroke-width="0.05">4</text>
<line x1="33.1" x2="36.5" y1="63.1" y2="63.1" stroke="#000" stroke-width="1.1"/>
<text x="31.1" y="66.55" font-size="9.7" text-anchor="end" font-family="Liberation Sans, sans-serif" font-weight="bold" stroke="#000" stroke-width="0.05">6</text>
<line x1="33.1" x2="36.5" y1="40.3" y2="40.3" stroke="#000" stroke-width="1.1"/>
<text x="31.1" y="43.75" font-size="9.7" text-anchor="end" font-family="Liberation Sans, sans-serif" font-weight="bold" stroke="#000" stroke-width="0.05">8</text>
<line x1="65" x2="65" y1="206.6" y2="203.2" stroke="#000" stroke-width="1.1"/>
<text x="65" y="215.2" font-size="9.8" text-anchor="middle" font-family="Liberation Sans, sans-serif" font-weight="bold" stroke="#000" stroke-width="0.05">2025</text>
<line x1="155" x2="155" y1="206.6" y2="203.2" stroke="#000" stroke-width="1.1"/>
<text x="155" y="215.2" font-size="9.8" text-anchor="middle" font-family="Liberation Sans, sans-serif" font-weight="bold" stroke="#000" stroke-width="0.05">2025</text>
<line x1="99.6" x2="99.6" y1="206.6" y2="203.2" stroke="#000" stroke-width="1.1"/>
<text x="99.6" y="215.2" font-size="9.8" text-anchor="middle" font-family="Liberation Sans, sans-serif" font-weight="bold" stroke="#000" stroke-width="0.05">2030</text>
<line x1="186.8" x2="186.8" y1="206.6" y2="203.2" stroke="#000" stroke-width="1.1"/>
<text x="186.8" y="215.2" font-size="9.8" text-anchor="middle" font-family="Liberation Sans, sans-serif" font-weight="bold" stroke="#000" stroke-width="0.05">2030</text>
<text x="78.97" y="226.2" font-size="9.9" text-anchor="middle" font-family="Liberation Sans, sans-serif" font-weight="bold" stroke="#000" stroke-width="0.22">Year</text>
<text x="167.43" y="226.2" font-size="9.9" text-anchor="middle" font-family="Liberation Sans, sans-serif" font-weight="bold" stroke="#000" stroke-width="0.22">Year</text>
<text x="78.38" y="30.7" font-size="10.5" text-anchor="middle" font-family="Liberation Sans, sans-serif" font-weight="bold" stroke="#000" stroke-width="0.22">4D</text>
<text x="167.62" y="30.7" font-size="10.5" text-anchor="middle" font-family="Liberation Sans, sans-serif" font-weight="bold" stroke="#000" stroke-width="0.22">2D</text>
<text x="121.15" y="8.1" font-size="10.6" text-anchor="middle" font-family="Liberation Sans, sans-serif" font-weight="bold" stroke="#000" stroke-width="0.22">Change in copper price due to</text>
<text x="121.15" y="19.9" font-size="10.6" text-anchor="middle" font-family="Liberation Sans, sans-serif" font-weight="bold" stroke="#000" stroke-width="0.22">cobalt demand shifter change</text>
<text x="-0.6" y="7.8" font-size="9.6" font-family="Liberation Sans, sans-serif" font-weight="bold" stroke="#000" stroke-width="0.22">b)</text>
<text transform="translate(15.94,120.25) rotate(-90)" font-size="9.8" text-anchor="middle" font-family="Liberation Sans, sans-serif" font-weight="bold" stroke="#000" stroke-width="0.22">% change in PRICE, rel. 2020</text>
</g>
<g transform="translate(474.5,0)">
<line x1="33.1" x2="210" y1="180.2" y2="180.2" stroke="#F1F1F1" stroke-width="1.1"/>
<line x1="33.1" x2="210" y1="150.3" y2="150.3" stroke="#F1F1F1" stroke-width="1.1"/>
<line x1="33.1" x2="210" y1="120.4" y2="120.4" stroke="#F1F1F1" stroke-width="1.1"/>
<line x1="33.1" x2="210" y1="90.5" y2="90.5" stroke="#F1F1F1" stroke-width="1.1"/>
<line x1="33.1" x2="210" y1="60.6" y2="60.6" stroke="#F1F1F1" stroke-width="1.1"/>
<line x1="65" x2="65" y1="33.9" y2="206.6" stroke="#F1F1F1" stroke-width="1.1"/>
<line x1="155" x2="155" y1="33.9" y2="206.6" stroke="#F1F1F1" stroke-width="1.1"/>
<line x1="99.6" x2="99.6" y1="33.9" y2="206.6" stroke="#F1F1F1" stroke-width="1.1"/>
<line x1="186.8" x2="186.8" y1="33.9" y2="206.6" stroke="#F1F1F1" stroke-width="1.1"/>
<g fill="none" stroke-linejoin="round" stroke-linecap="round">
<polyline points="37.32,120.4 44.24,107.84 51.16,86.91 58.08,91.7 65,120.4 71.92,101.26 78.84,120.4 85.76,43.86 92.68,117.41 99.6,71.96 106.52,120.4 113.44,41.46 120.36,117.41" stroke="#1B9E77" stroke-width="0.98"/>
<polyline points="37.32,120.4 65,120.4 71.92,105.45 78.84,115.02 85.76,92.89 92.68,118.61 99.6,76.75 106.52,119.2 113.44,120.4 120.36,120.4" stroke="#1B9E77" stroke-width="0.8" stroke-opacity="0.8"/>
<polyline points="37.32,120.4 65,120.4 71.92,109.04 78.84,119.2 85.76,112.63 92.68,141.93 99.6,119.2 106.52,120.4 120.36,120.4" stroke="#1B9E77" stroke-width="0.8" stroke-opacity="0.8"/>
<polyline points="37.32,120.4 65,120.4 71.92,113.22 78.84,120.4 85.76,115.62 92.68,138.34 99.6,117.41 106.52,123.39 113.44,120.4 120.36,120.4" stroke="#1B9E77" stroke-width="0.8" stroke-opacity="0.7"/>
<polyline points="37.32,120.4 58.08,120.4 65,104.25 71.92,124.59 78.84,135.95 85.76,104.25 92.68,120.4 99.6,120.4 106.52,113.22 113.44,120.4 120.36,139.54" stroke="#D95F02" stroke-width="0.86"/>
<polyline points="37.32,120.4 65,120.4 71.92,129.97 78.84,120.4 85.76,123.39 92.68,129.37 99.6,123.39 106.52,120.4 120.36,120.4" stroke="#7570B3" stroke-width="0.86"/>
<polyline points="37.32,120.4 65,120.4 71.92,125.18 78.84,120.4 85.76,126.38 92.68,122.79 99.6,129.97 106.52,120.4 120.36,120.4" stroke="#7570B3" stroke-width="0.86" stroke-opacity="0.8"/>
<polyline points="37.32,120.4 65,120.4 71.92,146.71 78.84,120.4 85.76,132.36 92.68,147.31 99.6,147.91 106.52,120.4 113.44,171.23 120.36,176.01" stroke="#E7298A" stroke-width="0.86"/>
<polyline points="37.32,120.4 65,120.4 71.92,132.36 78.84,120.4 85.76,129.37 99.6,153.29 106.52,152.69 113.44,147.91 120.36,196.94" stroke="#E7298A" stroke-width="0.86"/>
<polyline points="37.32,120.4 65,120.4 71.92,137.14 78.84,123.39 85.76,126.38 92.68,138.34 99.6,149.1 106.52,141.93 113.44,145.52 120.36,177.21" stroke="#E7298A" stroke-width="0.86"/>
<polyline points="37.32,120.4 65,120.4 71.92,126.38 78.84,120.4 92.68,126.38 99.6,126.38 113.44,120.4 120.36,120.4" stroke="#E7298A" stroke-width="0.86"/>
<polyline points="37.32,120.4 120.36,120.4" stroke="#E7298A" stroke-width="0.98"/>
<polyline points="129.56,120.4 205.88,120.4" stroke="#E7298A" stroke-width="0.98"/>
</g>
<text x="40.7" y="48.1" font-size="8.7" font-family="Liberation Sans, sans-serif" font-weight="bold" stroke="#000" stroke-width="0.22">Co DS slope</text>
<text x="40.9" y="57.5" font-size="8.7" font-family="Liberation Sans, sans-serif" font-weight="bold" stroke="#000" stroke-width="0.22">% of hist.</text>
<line x1="41.2" x2="54.2" y1="63.9" y2="63.9" stroke="#1B9E77" stroke-width="2.9" stroke-linecap="round"/>
<text x="60.5" y="67.1" font-size="9.0" font-family="Liberation Sans, sans-serif" font-weight="bold" stroke="#000" stroke-width="0.22">−50</text>
<line x1="41.2" x2="54.2" y1="73.65" y2="73.65" stroke="#D95F02" stroke-width="2.9" stroke-linecap="round"/>
<text x="60.5" y="76.85" font-size="9.0" font-family="Liberation Sans, sans-serif" font-weight="bold" stroke="#000" stroke-width="0.22">−25</text>
<line x1="41.2" x2="54.2" y1="83.4" y2="83.4" stroke="#7570B3" stroke-width="2.9" stroke-linecap="round"/>
<text x="60.5" y="86.6" font-size="9.0" font-family="Liberation Sans, sans-serif" font-weight="bold" stroke="#000" stroke-width="0.22">+50</text>
<line x1="41.2" x2="54.2" y1="93.15" y2="93.15" stroke="#E7298A" stroke-width="2.9" stroke-linecap="round"/>
<text x="60.5" y="96.35" font-size="9.0" font-family="Liberation Sans, sans-serif" font-weight="bold" stroke="#000" stroke-width="0.22">+100</text>
<rect x="33.1" y="33.9" width="176.9" height="172.7" fill="none" stroke="#000" stroke-width="1.7"/>
<line x1="124.85" x2="124.85" y1="33.9" y2="206.6" stroke="#000" stroke-width="2.4"/>
<line x1="33.1" x2="36.5" y1="180.2" y2="180.2" stroke="#000" stroke-width="1.1"/>
<text x="31.1" y="183.65" font-size="9.7" text-anchor="end" font-family="Liberation Sans, sans-serif" font-weight="bold" stroke="#000" stroke-width="0.05">−10</text>
<line x1="33.1" x2="36.5" y1="150.3" y2="150.3" stroke="#000" stroke-width="1.1"/>
<text x="31.1" y="153.75" font-size="9.7" text-anchor="end" font-family="Liberation Sans, sans-serif" font-weight="bold" stroke="#000" stroke-width="0.05">−5</text>
<line x1="33.1" x2="36.5" y1="120.4" y2="120.4" stroke="#000" stroke-width="1.1"/>
<text x="31.1" y="123.85" font-size="9.7" text-anchor="end" font-family="Liberation Sans, sans-serif" font-weight="bold" stroke="#000" stroke-width="0.05">0</text>
<line x1="33.1" x2="36.5" y1="90.5" y2="90.5" stroke="#000" stroke-width="1.1"/>
<text x="31.1" y="93.95" font-size="9.7" text-anchor="end" font-family="Liberation Sans, sans-serif" font-weight="bold" stroke="#000" stroke-width="0.05">5</text>
<line x1="33.1" x2="36.5" y1="60.6" y2="60.6" stroke="#000" stroke-width="1.1"/>
<text x="31.1" y="64.05" font-size="9.7" text-anchor="end" font-family="Liberation Sans, sans-serif" font-weight="bold" stroke="#000" stroke-width="0.05">10</text>
<line x1="65" x2="65" y1="206.6" y2="203.2" stroke="#000" stroke-width="1.1"/>
<text x="65" y="215.2" font-size="9.8" text-anchor="middle" font-family="Liberation Sans, sans-serif" font-weight="bold" stroke="#000" stroke-width="0.05">2025</text>
<line x1="155" x2="155" y1="206.6" y2="203.2" stroke="#000" stroke-width="1.1"/>
<text x="155" y="215.2" font-size="9.8" text-anchor="middle" font-family="Liberation Sans, sans-serif" font-weight="bold" stroke="#000" stroke-width="0.05">2025</text>
<line x1="99.6" x2="99.6" y1="206.6" y2="203.2" stroke="#000" stroke-width="1.1"/>
<text x="99.6" y="215.2" font-size="9.8" text-anchor="middle" font-family="Liberation Sans, sans-serif" font-weight="bold" stroke="#000" stroke-width="0.05">2030</text>
<line x1="186.8" x2="186.8" y1="206.6" y2="203.2" stroke="#000" stroke-width="1.1"/>
<text x="186.8" y="215.2" font-size="9.8" text-anchor="middle" font-family="Liberation Sans, sans-serif" font-weight="bold" stroke="#000" stroke-width="0.05">2030</text>
<text x="78.97" y="226.2" font-size="9.9" text-anchor="middle" font-family="Liberation Sans, sans-serif" font-weight="bold" stroke="#000" stroke-width="0.22">Year</text>
<text x="167.43" y="226.2" font-size="9.9" text-anchor="middle" font-family="Liberation Sans, sans-serif" font-weight="bold" stroke="#000" stroke-width="0.22">Year</text>
<text x="78.38" y="30.7" font-size="10.5" text-anchor="middle" font-family="Liberation Sans, sans-serif" font-weight="bold" stroke="#000" stroke-width="0.22">4D</text>
<text x="167.62" y="30.7" font-size="10.5" text-anchor="middle" font-family="Liberation Sans, sans-serif" font-weight="bold" stroke="#000" stroke-width="0.22">2D</text>
<text x="121.15" y="8.1" font-size="10.6" text-anchor="middle" font-family="Liberation Sans, sans-serif" font-weight="bold" stroke="#000" stroke-width="0.22">Change in nickel price due to</text>
<text x="121.15" y="19.9" font-size="10.6" text-anchor="middle" font-family="Liberation Sans, sans-serif" font-weight="bold" stroke="#000" stroke-width="0.22">cobalt demand shifter change</text>
<text x="-0.6" y="7.8" font-size="9.6" font-family="Liberation Sans, sans-serif" font-weight="bold" stroke="#000" stroke-width="0.22">c)</text>
<text transform="translate(10.55,120.25) rotate(-90)" font-size="9.8" text-anchor="middle" font-family="Liberation Sans, sans-serif" font-weight="bold" stroke="#000" stroke-width="0.22">% change in PRICE, rel. 2020</text>
</g>
<g transform="translate(0,236.75)">
<line x1="33.1" x2="210" y1="204.88" y2="204.88" stroke="#F1F1F1" stroke-width="1.1"/>
<line x1="33.1" x2="210" y1="174.74" y2="174.74" stroke="#F1F1F1" stroke-width="1.1"/>
<line x1="33.1" x2="210" y1="144.6" y2="144.6" stroke="#F1F1F1" stroke-width="1.1"/>
<line x1="33.1" x2="210" y1="114.46" y2="114.46" stroke="#F1F1F1" stroke-width="1.1"/>
<line x1="33.1" x2="210" y1="84.32" y2="84.32" stroke="#F1F1F1" stroke-width="1.1"/>
<line x1="33.1" x2="210" y1="54.18" y2="54.18" stroke="#F1F1F1" stroke-width="1.1"/>
<line x1="65" x2="65" y1="33.9" y2="206.6" stroke="#F1F1F1" stroke-width="1.1"/>
<line x1="155" x2="155" y1="33.9" y2="206.6" stroke="#F1F1F1" stroke-width="1.1"/>
<line x1="99.6" x2="99.6" y1="33.9" y2="206.6" stroke="#F1F1F1" stroke-width="1.1"/>
<line x1="186.8" x2="186.8" y1="33.9" y2="206.6" stroke="#F1F1F1" stroke-width="1.1"/>
<g fill="none" stroke-linejoin="round" stroke-linecap="round">
<polyline points="37.32,144.6 58.08,144.6 65,143.85 71.92,146.86 78.84,142.34 85.76,145.35 92.68,144.6 99.6,132.24 106.52,115.36 113.44,125.31 120.36,137.37" stroke="#1B9E77" stroke-width="0.86"/>
<polyline points="37.32,144.6 58.08,144.6 65,144.15 71.92,142.79 78.84,141.89 85.76,145.35 92.68,144.6 99.6,141.59 106.52,132.54 113.44,122 120.36,102.4" stroke="#1B9E77" stroke-width="0.86"/>
<polyline points="37.32,144.6 65,144.6 71.92,143.09 78.84,143.09 85.76,144.6 92.68,144.6 99.6,141.59 106.52,124.26 113.44,129.53 120.36,137.06" stroke="#1B9E77" stroke-width="0.86"/>
<polyline points="37.32,144.6 65,144.6 71.92,143.85 78.84,142.79 85.76,144.6 92.68,144.6 99.6,138.57 106.52,135.56 113.44,117.47 120.36,132.54" stroke="#1B9E77" stroke-width="0.86"/>
<polyline points="37.32,144.6 92.68,144.6 99.6,143.09 106.52,140.08 113.44,135.56 120.36,121.24" stroke="#1B9E77" stroke-width="0.86"/>
<polyline points="37.32,144.6 99.6,144.6 106.52,141.59 113.44,140.08 120.36,141.59" stroke="#1B9E77" stroke-width="0.86"/>
<polyline points="37.32,144.6 92.68,144.6 99.6,143.85 106.52,137.06 113.44,138.57 120.36,135.56" stroke="#1B9E77" stroke-width="0.86"/>
<polyline points="37.32,144.6 58.08,144.6 71.92,143.09 78.84,143.09 85.76,144.6 106.52,144.6 113.44,137.06 120.36,109.34" stroke="#D95F02" stroke-width="1.03"/>
<polyline points="37.32,144.6 106.52,144.6 113.44,140.08 120.36,129.08" stroke="#D95F02" stroke-width="1.03"/>
<polyline points="37.32,144.6 106.52,144.6 113.44,143.09 120.36,117.47" stroke="#D95F02" stroke-width="0.86"/>
<polyline points="37.32,144.6 78.84,144.6 85.76,151.98 92.68,144.6 99.6,144.6 106.52,146.11 113.44,146.11 120.36,149.12" stroke="#7570B3" stroke-width="0.86"/>
<polyline points="37.32,144.6 85.76,144.6 92.68,146.11 99.6,144.6 106.52,147.61 113.44,147.61 120.36,146.11" stroke="#7570B3" stroke-width="0.86"/>
<polyline points="37.32,144.6 51.16,144.6 58.08,142.64 65,144.6 71.92,145.35 78.84,144.6 120.36,144.6" stroke="#E7298A" stroke-width="0.86"/>
<polyline points="37.32,144.6 51.16,144.6 58.08,146.86 65,144.6 71.92,146.11 78.84,144.6 120.36,144.6" stroke="#E7298A" stroke-width="0.86"/>
<polyline points="37.32,144.6 71.92,144.6 78.84,145.35 85.76,141.28 92.68,146.86 99.6,146.11 106.52,144.6 120.36,144.6" stroke="#E7298A" stroke-width="0.86"/>
<polyline points="37.32,144.6 92.68,144.6 106.52,147.61 113.44,162.23 120.36,152.13" stroke="#E7298A" stroke-width="0.86"/>
<polyline points="37.32,144.6 85.76,144.6 92.68,146.11 99.6,146.11 113.44,149.12 120.36,155.15" stroke="#E7298A" stroke-width="0.86"/>
<polyline points="37.32,144.6 78.84,144.6 92.68,147.61 99.6,147.61 106.52,146.11 120.36,149.12" stroke="#E7298A" stroke-width="0.86"/>
<polyline points="37.32,144.6 78.84,144.6 92.68,146.11 99.6,145.35 106.52,146.86 113.44,146.11 120.36,147.61" stroke="#E7298A" stroke-width="0.86"/>
<polyline points="37.32,144.6 92.68,144.6 99.6,147.61 113.44,150.63 120.36,153.64" stroke="#E7298A" stroke-width="0.86"/>
<polyline points="37.32,144.6 85.76,144.6 92.68,148.37 106.52,145.35 113.44,148.37 120.36,146.11" stroke="#E7298A" stroke-width="0.86"/>
<polyline points="37.32,144.6 44.24,145.35 51.16,145.35 58.08,145.65 65,145.35 71.92,145.81 78.84,145.35 85.76,146.11 92.68,146.11 99.6,146.86 106.52,146.41 113.44,146.86 120.36,147.61" stroke="#E7298A" stroke-width="0.86"/>
<polyline points="37.32,144.6 51.16,145.5 58.08,145.2 65,145.81 71.92,145.35 78.84,146.11 85.76,145.65 92.68,146.86 99.6,146.11 106.52,147.61 120.36,149.12" stroke="#E7298A" stroke-width="0.86"/>
<polyline points="37.32,144.6 44.24,145.5 51.16,145.96 58.08,145.81 65,146.11 71.92,145.96 85.76,146.56 92.68,146.41 99.6,147.31 106.52,146.86 113.44,147.31 120.36,148.37" stroke="#E7298A" stroke-width="0.86"/>
<polyline points="37.32,144.6 120.36,144.6" stroke="#E7298A" stroke-width="0.98"/>
<polyline points="129.56,144.6 205.88,144.6" stroke="#1B9E77" stroke-width="0.86"/>
<polyline points="129.56,144.6 205.88,144.6" stroke="#1B9E77" stroke-width="0.86"/>
<polyline points="129.56,144.6 155,144.6 161.36,143.85 167.72,144.15 174.08,144.6 193.16,144.6 199.52,94.87 205.88,42.12" stroke="#1B9E77" stroke-width="0.86"/>
<polyline points="129.56,144.6 155,144.6 161.36,143.85 167.72,144.15 174.08,144.6 186.8,144.6 193.16,143.85 199.52,99.39 205.88,51.17" stroke="#1B9E77" stroke-width="0.86"/>
<polyline points="129.56,144.6 155,144.6 161.36,143.85 167.72,144.15 174.08,144.6 193.16,144.6 205.88,66.24" stroke="#1B9E77" stroke-width="0.86"/>
<polyline points="129.56,144.6 155,144.6 161.36,143.85 167.72,144.15 174.08,144.6 186.8,144.6 193.16,143.09 199.52,122 205.88,114.46" stroke="#1B9E77" stroke-width="0.86"/>
<polyline points="129.56,144.6 155,144.6 161.36,143.85 167.72,144.15 174.08,144.6 186.8,144.6 193.16,143.85 199.52,126.52 205.88,117.47" stroke="#1B9E77" stroke-width="0.86"/>
<polyline points="129.56,144.6 155,144.6 161.36,143.85 167.72,144.15 174.08,144.6 193.16,144.6 199.52,132.54 205.88,122" stroke="#1B9E77" stroke-width="0.86"/>
<polyline points="129.56,144.6 155,144.6 161.36,143.85 167.72,144.15 174.08,144.6 186.8,144.6 193.16,143.09 199.52,137.06 205.88,129.53" stroke="#1B9E77" stroke-width="0.86"/>
<polyline points="129.56,144.6 155,144.6 161.36,143.85 167.72,144.15 174.08,144.6 193.16,144.6 205.88,132.54" stroke="#1B9E77" stroke-width="0.86"/>
<polyline points="129.56,144.6 155,144.6 161.36,143.85 167.72,144.15 174.08,144.6 193.16,144.6 199.52,141.59 205.88,140.08" stroke="#1B9E77" stroke-width="0.86"/>
<polyline points="129.56,144.6 155,144.6 161.36,143.85 167.72,144.15 174.08,144.6 186.8,144.6 193.16,143.09 199.52,131.04 205.88,115.97" stroke="#1B9E77" stroke-width="0.86"/>
<polyline points="129.56,144.6 155,144.6 161.36,143.85 167.72,144.15 174.08,144.6 193.16,144.6 199.52,140.08 205.88,137.06" stroke="#1B9E77" stroke-width="0.86"/>
<polyline points="129.56,144.6 155,144.6 161.36,143.85 167.72,144.15 174.08,144.6 186.8,144.6 193.16,143.85 199.52,129.53 205.88,115.97" stroke="#1B9E77" stroke-width="0.86"/>
<polyline points="129.56,144.6 155,144.6 161.36,143.85 167.72,144.15 174.08,144.6 193.16,144.6 199.52,128.02 205.88,116.72" stroke="#1B9E77" stroke-width="0.86"/>
<polyline points="129.56,144.6 155,144.6 161.36,143.85 167.72,144.15 174.08,144.6 186.8,144.6 193.16,143.85 199.52,134.05 205.88,129.53" stroke="#1B9E77" stroke-width="0.86"/>
<polyline points="129.56,144.6 155,144.6 161.36,143.85 167.72,144.15 174.08,144.6 186.8,144.6 193.16,143.09 199.52,135.56 205.88,131.04" stroke="#1B9E77" stroke-width="0.86"/>
<polyline points="129.56,144.6 205.88,144.6" stroke="#D95F02" stroke-width="0.86"/>
<polyline points="129.56,144.6 205.88,144.6" stroke="#D95F02" stroke-width="0.86"/>
<polyline points="129.56,144.6 161.36,144.6 167.72,144.94 174.08,145.86 180.44,149.13 186.8,151.63 193.16,153.13 199.52,160.51 205.88,162" stroke="#7570B3" stroke-width="0.86"/>
<polyline points="129.56,144.6 161.36,144.6 167.72,144.93 174.08,145.95 180.44,150.21 186.8,152.51 193.16,156.04 199.52,153.84 205.88,156.81" stroke="#7570B3" stroke-width="0.86"/>
<polyline points="129.56,144.6 161.36,144.6 167.72,144.86 174.08,145.54 180.44,147.37 186.8,153.03 193.16,155.62 199.52,153.36 205.88,153.91" stroke="#7570B3" stroke-width="0.86"/>
<polyline points="129.56,144.6 161.36,144.6 167.72,144.77 174.08,145.87 180.44,147.36 186.8,150.8 193.16,147.09 199.52,152.54 205.88,152.77" stroke="#7570B3" stroke-width="0.86"/>
<polyline points="129.56,144.6 161.36,144.6 167.72,144.87 174.08,145.61 180.44,149.11 186.8,155.89 193.16,154.94 199.52,155.28 205.88,157.38" stroke="#7570B3" stroke-width="0.86"/>
<polyline points="129.56,144.6 161.36,144.6 167.72,145.06 174.08,146.82 180.44,150.58 186.8,157.7 193.16,157.68 199.52,163.78 205.88,157.62" stroke="#7570B3" stroke-width="0.86"/>
<polyline points="129.56,144.6 161.36,144.6 167.72,144.8 174.08,146.42 180.44,148.9 186.8,154.75 193.16,155.68 199.52,154.37 205.88,159.83" stroke="#7570B3" stroke-width="0.86"/>
<polyline points="129.56,144.6 161.36,144.6 167.72,144.88 174.08,146.66 180.44,149.95 186.8,150.47 193.16,152.27 199.52,157.57 205.88,157.43" stroke="#7570B3" stroke-width="0.86"/>
<polyline points="129.56,144.6 161.36,144.6 167.72,144.9 174.08,146.49 180.44,148.24 186.8,148.34 193.16,153.56 199.52,152.25 205.88,153.17" stroke="#7570B3" stroke-width="0.86"/>
<polyline points="129.56,144.6 161.36,144.6 167.72,144.98 174.08,146.29 180.44,148.6 186.8,153.58 193.16,152.86 199.52,155.78 205.88,157.29" stroke="#7570B3" stroke-width="0.86"/>
<polyline points="129.56,144.6 161.36,144.6 167.72,145 174.08,146.77 180.44,149.21 186.8,148.84 193.16,147.47 199.52,148.36 205.88,150.6" stroke="#E7298A" stroke-width="0.86"/>
<polyline points="129.56,144.6 161.36,144.6 167.72,145.18 174.08,148.64 180.44,153.33 186.8,154.78 193.16,156.06 199.52,155.64 205.88,159.16" stroke="#E7298A" stroke-width="0.86"/>
<polyline points="129.56,144.6 161.36,144.6 167.72,145.24 174.08,148.77 180.44,153.04 186.8,156.81 193.16,155.06 199.52,155.37 205.88,158.83" stroke="#E7298A" stroke-width="0.86"/>
<polyline points="129.56,144.6 161.36,144.6 167.72,145.01 174.08,147.55 180.44,150.43 186.8,152.06 193.16,157.36 199.52,156.06 205.88,154.69" stroke="#E7298A" stroke-width="0.86"/>
<polyline points="129.56,144.6 161.36,144.6 167.72,145.31 174.08,147.53 180.44,148.93 186.8,147.59 193.16,150.43 199.52,147.24 205.88,150.9" stroke="#E7298A" stroke-width="0.86"/>
<polyline points="129.56,144.6 161.36,144.6 167.72,145.27 174.08,147.89 180.44,152.01 186.8,155.75 193.16,155.55 199.52,158.07 205.88,157.77" stroke="#E7298A" stroke-width="0.86"/>
<polyline points="129.56,144.6 161.36,144.6 167.72,145.08 174.08,147.3 180.44,149.54 186.8,147.28 193.16,151.68 199.52,155.05 205.88,148.9" stroke="#E7298A" stroke-width="0.86"/>
<polyline points="129.56,144.6 161.36,144.6 167.72,145.15 174.08,148 180.44,150.47 186.8,151.86 193.16,156.94 199.52,160.62 205.88,159.68" stroke="#E7298A" stroke-width="0.86"/>
<polyline points="129.56,144.6 161.36,144.6 167.72,144.99 174.08,147.99 180.44,151.83 186.8,153.85 193.16,150.25 199.52,154.99 205.88,154.37" stroke="#E7298A" stroke-width="0.86"/>
<polyline points="129.56,144.6 161.36,144.6 167.72,144.83 174.08,146.5 180.44,149.64 186.8,152.88 193.16,153.84 199.52,155.55 205.88,159.31" stroke="#E7298A" stroke-width="0.86"/>
<polyline points="129.56,144.6 161.36,144.6 167.72,144.85 174.08,146.48 180.44,151.56 186.8,154.29 193.16,159.8 199.52,159.77 205.88,160.08" stroke="#E7298A" stroke-width="0.86"/>
<polyline points="129.56,144.6 161.36,144.6 167.72,145.04 174.08,148.5 180.44,151.94 186.8,155.63 193.16,153.71 199.52,153 205.88,154.04" stroke="#E7298A" stroke-width="0.86"/>
<polyline points="129.56,144.6 161.36,144.6 167.72,145.15 174.08,147.67 180.44,152.05 186.8,154.23 193.16,156.99 199.52,152.06 205.88,154.95" stroke="#E7298A" stroke-width="0.86"/>
<polyline points="129.56,144.6 161.36,144.6 167.72,144.75 174.08,147.05 180.44,149.62 186.8,150.68 193.16,150.76 199.52,147.88 205.88,153.06" stroke="#E7298A" stroke-width="0.86"/>
<polyline points="129.56,144.6 161.36,144.6 167.72,144.79 174.08,147.49 180.44,150.65 186.8,156.82 193.16,157.45 199.52,153.52 205.88,157.64" stroke="#E7298A" stroke-width="0.86"/>
<polyline points="129.56,144.6 161.36,144.6 167.72,145.1 174.08,148.53 180.44,153.06 186.8,155.51 193.16,158.73 199.52,160.29 205.88,155.81" stroke="#E7298A" stroke-width="0.86"/>
<polyline points="129.56,144.6 161.36,144.6 167.72,144.92 174.08,146.98 180.44,152.77 186.8,153.68 193.16,154.13 199.52,155.5 205.88,161.02" stroke="#E7298A" stroke-width="0.86"/>
<polyline points="129.56,144.6 161.36,144.6 167.72,145.16 174.08,148.55 180.44,151.85 186.8,157.37 193.16,153.15 199.52,156.39 205.88,156.44" stroke="#E7298A" stroke-width="0.86"/>
<polyline points="129.56,144.6 161.36,144.6 167.72,145.27 174.08,147.28 180.44,151.16 186.8,154.57 193.16,154.34 199.52,152.72 205.88,156.71" stroke="#E7298A" stroke-width="0.86"/>
<polyline points="129.56,144.6 161.36,144.6 167.72,145.21 174.08,148.26 180.44,151.32 186.8,155.36 193.16,156.47 199.52,159.02 205.88,159.89" stroke="#E7298A" stroke-width="0.86"/>
<polyline points="129.56,144.6 161.36,144.6 167.72,144.93 174.08,147.28 180.44,152.61 186.8,158.54 193.16,157.99 199.52,161.61 205.88,152.87" stroke="#E7298A" stroke-width="0.86"/>
<polyline points="129.56,144.6 161.36,144.6 167.72,145.07 174.08,147.48 180.44,152.54 186.8,154.83 193.16,156.43 199.52,158.52 205.88,164.28" stroke="#E7298A" stroke-width="0.86"/>
<polyline points="129.56,144.6 161.36,144.6 167.72,144.9 180.44,145.81 186.8,145.5 193.16,145.81 199.52,145.65 205.88,146.11" stroke="#E7298A" stroke-width="0.86"/>
<polyline points="129.56,144.6 161.36,144.6 167.72,145.05 174.08,148.37 180.44,153.34 186.8,172.33 193.16,176.25 199.52,184.23 205.88,183.33" stroke="#E7298A" stroke-width="1.03"/>
<polyline points="129.56,144.6 161.36,144.6 167.72,145.05 174.08,148.37 180.44,153.34 186.8,180.32 193.16,184.23 199.52,192.22 205.88,190.86" stroke="#E7298A" stroke-width="1.03"/>
<polyline points="129.56,144.6 161.36,144.6 167.72,145.05 174.08,148.37 180.44,153.34 186.8,182.27 193.16,187.25 199.52,198.25 205.88,195.84" stroke="#E7298A" stroke-width="1.03"/>
<polyline points="129.56,144.6 161.36,144.6 167.72,145.05 174.08,148.37 180.44,153.04 186.8,173.99 193.16,177.75 199.52,184.99 205.88,184.08" stroke="#E7298A" stroke-width="0.86"/>
</g>
<text x="40.7" y="48.1" font-size="8.7" font-family="Liberation Sans, sans-serif" font-weight="bold" stroke="#000" stroke-width="0.22">Cu DS slope</text>
<text x="40.9" y="57.5" font-size="8.7" font-family="Liberation Sans, sans-serif" font-weight="bold" stroke="#000" stroke-width="0.22">% of hist.</text>
<line x1="41.2" x2="54.2" y1="63.9" y2="63.9" stroke="#1B9E77" stroke-width="2.9" stroke-linecap="round"/>
<text x="60.5" y="67.1" font-size="9.0" font-family="Liberation Sans, sans-serif" font-weight="bold" stroke="#000" stroke-width="0.22">−50</text>
<line x1="41.2" x2="54.2" y1="73.65" y2="73.65" stroke="#D95F02" stroke-width="2.9" stroke-linecap="round"/>
<text x="60.5" y="76.85" font-size="9.0" font-family="Liberation Sans, sans-serif" font-weight="bold" stroke="#000" stroke-width="0.22">−25</text>
<line x1="41.2" x2="54.2" y1="83.4" y2="83.4" stroke="#7570B3" stroke-width="2.9" stroke-linecap="round"/>
<text x="60.5" y="86.6" font-size="9.0" font-family="Liberation Sans, sans-serif" font-weight="bold" stroke="#000" stroke-width="0.22">+50</text>
<line x1="41.2" x2="54.2" y1="93.15" y2="93.15" stroke="#E7298A" stroke-width="2.9" stroke-linecap="round"/>
<text x="60.5" y="96.35" font-size="9.0" font-family="Liberation Sans, sans-serif" font-weight="bold" stroke="#000" stroke-width="0.22">+100</text>
<rect x="33.1" y="33.9" width="176.9" height="172.7" fill="none" stroke="#000" stroke-width="1.7"/>
<line x1="124.85" x2="124.85" y1="33.9" y2="206.6" stroke="#000" stroke-width="2.4"/>
<line x1="33.1" x2="36.5" y1="204.88" y2="204.88" stroke="#000" stroke-width="1.1"/>
<text x="31.1" y="208.33" font-size="9.7" text-anchor="end" font-family="Liberation Sans, sans-serif" font-weight="bold" stroke="#000" stroke-width="0.05">−40</text>
<line x1="33.1" x2="36.5" y1="174.74" y2="174.74" stroke="#000" stroke-width="1.1"/>
<text x="31.1" y="178.19" font-size="9.7" text-anchor="end" font-family="Liberation Sans, sans-serif" font-weight="bold" stroke="#000" stroke-width="0.05">−20</text>
<line x1="33.1" x2="36.5" y1="144.6" y2="144.6" stroke="#000" stroke-width="1.1"/>
<text x="31.1" y="148.05" font-size="9.7" text-anchor="end" font-family="Liberation Sans, sans-serif" font-weight="bold" stroke="#000" stroke-width="0.05">0</text>
<line x1="33.1" x2="36.5" y1="114.46" y2="114.46" stroke="#000" stroke-width="1.1"/>
<text x="31.1" y="117.91" font-size="9.7" text-anchor="end" font-family="Liberation Sans, sans-serif" font-weight="bold" stroke="#000" stroke-width="0.05">20</text>
<line x1="33.1" x2="36.5" y1="84.32" y2="84.32" stroke="#000" stroke-width="1.1"/>
<text x="31.1" y="87.77" font-size="9.7" text-anchor="end" font-family="Liberation Sans, sans-serif" font-weight="bold" stroke="#000" stroke-width="0.05">40</text>
<line x1="33.1" x2="36.5" y1="54.18" y2="54.18" stroke="#000" stroke-width="1.1"/>
<text x="31.1" y="57.63" font-size="9.7" text-anchor="end" font-family="Liberation Sans, sans-serif" font-weight="bold" stroke="#000" stroke-width="0.05">60</text>
<line x1="65" x2="65" y1="206.6" y2="203.2" stroke="#000" stroke-width="1.1"/>
<text x="65" y="215.2" font-size="9.8" text-anchor="middle" font-family="Liberation Sans, sans-serif" font-weight="bold" stroke="#000" stroke-width="0.05">2025</text>
<line x1="155" x2="155" y1="206.6" y2="203.2" stroke="#000" stroke-width="1.1"/>
<text x="155" y="215.2" font-size="9.8" text-anchor="middle" font-family="Liberation Sans, sans-serif" font-weight="bold" stroke="#000" stroke-width="0.05">2025</text>
<line x1="99.6" x2="99.6" y1="206.6" y2="203.2" stroke="#000" stroke-width="1.1"/>
<text x="99.6" y="215.2" font-size="9.8" text-anchor="middle" font-family="Liberation Sans, sans-serif" font-weight="bold" stroke="#000" stroke-width="0.05">2030</text>
<line x1="186.8" x2="186.8" y1="206.6" y2="203.2" stroke="#000" stroke-width="1.1"/>
<text x="186.8" y="215.2" font-size="9.8" text-anchor="middle" font-family="Liberation Sans, sans-serif" font-weight="bold" stroke="#000" stroke-width="0.05">2030</text>
<text x="78.97" y="226.2" font-size="9.9" text-anchor="middle" font-family="Liberation Sans, sans-serif" font-weight="bold" stroke="#000" stroke-width="0.22">Year</text>
<text x="167.43" y="226.2" font-size="9.9" text-anchor="middle" font-family="Liberation Sans, sans-serif" font-weight="bold" stroke="#000" stroke-width="0.22">Year</text>
<text x="78.38" y="30.7" font-size="10.5" text-anchor="middle" font-family="Liberation Sans, sans-serif" font-weight="bold" stroke="#000" stroke-width="0.22">4D</text>
<text x="167.62" y="30.7" font-size="10.5" text-anchor="middle" font-family="Liberation Sans, sans-serif" font-weight="bold" stroke="#000" stroke-width="0.22">2D</text>
<text x="121.15" y="8.1" font-size="10.6" text-anchor="middle" font-family="Liberation Sans, sans-serif" font-weight="bold" stroke="#000" stroke-width="0.22">Change in cobalt price due to</text>
<text x="121.15" y="19.9" font-size="10.6" text-anchor="middle" font-family="Liberation Sans, sans-serif" font-weight="bold" stroke="#000" stroke-width="0.22">copper demand shifter change</text>
<text x="-0.6" y="7.8" font-size="9.6" font-family="Liberation Sans, sans-serif" font-weight="bold" stroke="#000" stroke-width="0.22">d)</text>
<text transform="translate(10.55,120.25) rotate(-90)" font-size="9.8" text-anchor="middle" font-family="Liberation Sans, sans-serif" font-weight="bold" stroke="#000" stroke-width="0.22">% change in PRICE, rel. 2020</text>
</g>
<g transform="translate(237.3,236.75)">
<line x1="33.1" x2="210" y1="195.5" y2="195.5" stroke="#F1F1F1" stroke-width="1.1"/>
<line x1="33.1" x2="210" y1="160.35" y2="160.35" stroke="#F1F1F1" stroke-width="1.1"/>
<line x1="33.1" x2="210" y1="125.2" y2="125.2" stroke="#F1F1F1" stroke-width="1.1"/>
<line x1="33.1" x2="210" y1="90.05" y2="90.05" stroke="#F1F1F1" stroke-width="1.1"/>
<line x1="33.1" x2="210" y1="54.9" y2="54.9" stroke="#F1F1F1" stroke-width="1.1"/>
<line x1="65" x2="65" y1="33.9" y2="206.6" stroke="#F1F1F1" stroke-width="1.1"/>
<line x1="155" x2="155" y1="33.9" y2="206.6" stroke="#F1F1F1" stroke-width="1.1"/>
<line x1="99.6" x2="99.6" y1="33.9" y2="206.6" stroke="#F1F1F1" stroke-width="1.1"/>
<line x1="186.8" x2="186.8" y1="33.9" y2="206.6" stroke="#F1F1F1" stroke-width="1.1"/>
<g fill="none" stroke-linejoin="round" stroke-linecap="round">
<polyline points="37.32,195.5 51.16,195.5 58.08,195.85 65,197.5 71.92,197.5 78.84,200.6 85.76,195.5 92.68,197.5 99.6,201.83 106.52,196.2 113.44,196.84 120.36,202.18" stroke="#1B9E77" stroke-width="1.03"/>
<polyline points="37.32,195.5 51.16,195.5 58.08,195.85 65,196.91 71.92,197.26 78.84,199.72 85.76,195.85 92.68,197.26 99.6,200.77 106.52,195.85 113.44,196.91 120.36,201.12" stroke="#1B9E77" stroke-width="0.86"/>
<polyline points="37.32,195.5 44.24,195.85 58.08,195.85 71.92,196.55 78.84,195.85 85.76,196.2 92.68,197.26 99.6,196.55 106.52,196.2 113.44,197.26 120.36,195.85" stroke="#D95F02" stroke-width="1.03"/>
<polyline points="37.32,195.5 51.16,195.85 58.08,195.68 65,195.85 71.92,196.2 78.84,195.85 85.76,195.85 92.68,196.91 99.6,196.2 106.52,195.85 113.44,196.91 120.36,196.2" stroke="#D95F02" stroke-width="0.86"/>
<polyline points="37.32,195.5 58.08,194.45 65,195.15 71.92,193.5 78.84,195.5 85.76,194.45 92.68,194.8 99.6,195.5 106.52,191.99 113.44,190.23 120.36,195.5" stroke="#7570B3" stroke-width="0.86"/>
<polyline points="37.32,195.5 44.24,195.5 58.08,194.8 65,195.5 71.92,194.45 78.84,195.15 92.68,194.45 99.6,194.8 113.44,192.69 120.36,194.8" stroke="#7570B3" stroke-width="0.86"/>
<polyline points="37.32,195.5 44.24,195.15 51.16,195.15 58.08,194.8 65,195.15 71.92,194.09 78.84,195.15 85.76,194.09 92.68,194.45 99.6,195.15 106.52,190.58 113.44,189.52 120.36,195.15" stroke="#7570B3" stroke-width="0.86"/>
<polyline points="37.32,195.5 44.24,192.83 51.16,193.92 58.08,194.16 65,193.92 71.92,188.82 78.84,193.92 85.76,186.15 92.68,188.12 99.6,193.5 106.52,179.47 113.44,179.19 120.36,186.82" stroke="#E7298A" stroke-width="1.03"/>
<polyline points="37.32,195.5 44.24,193.04 51.16,193.74 58.08,194.09 65,193.74 71.92,189.17 78.84,193.74 85.76,186.71 92.68,188.47 99.6,188.82 106.52,180.74 113.44,180.03 120.36,187.06" stroke="#E7298A" stroke-width="1.03"/>
<polyline points="37.32,195.5 44.24,193.39 51.16,194.09 65,194.09 71.92,189.52 78.84,193.39 85.76,187.06 92.68,189.17 99.6,189.17 106.52,181.44 113.44,180.74 120.36,187.42" stroke="#E7298A" stroke-width="0.86"/>
<polyline points="37.32,195.5 44.24,193.04 51.16,194.09 58.08,194.09 65,193.74 71.92,189.17 78.84,193.74 85.76,186.36 92.68,188.12 99.6,193.39 106.52,180.03 113.44,179.68 120.36,186.71" stroke="#E7298A" stroke-width="0.86"/>
<polyline points="129.56,195.5 135.92,196.55 142.28,197.26 148.64,195.5 155,196.2 161.36,195.85 167.72,196.2 180.44,196.2 186.8,197.26 193.16,197.26 199.52,197.61 205.88,198.31" stroke="#1B9E77" stroke-width="1.03"/>
<polyline points="129.56,195.5 142.28,196.91 148.64,195.85 155,196.2 161.36,196.2 167.72,196.55 180.44,196.55 193.16,197.26 199.52,197.26 205.88,197.96" stroke="#1B9E77" stroke-width="0.86"/>
<polyline points="129.56,195.5 135.92,195.85 142.28,196.55 148.64,195.15 155,195.85 161.36,195.85 167.72,196.2 174.08,195.5 180.44,196.2 186.8,196.2 193.16,196.55 205.88,196.55" stroke="#D95F02" stroke-width="1.03"/>
<polyline points="129.56,195.5 142.28,196.2 148.64,195.5 155,195.85 167.72,195.85 174.08,195.5 186.8,196.2 193.16,196.2 205.88,196.91" stroke="#D95F02" stroke-width="0.86"/>
<polyline points="129.56,195.5 135.92,195.5 142.28,194.45 148.64,191.99 155,193.53 161.36,191.99 167.72,189.35 174.08,192.55 180.44,188.61 186.8,188.61 193.16,188.82 199.52,188.61 205.88,188.12" stroke="#7570B3" stroke-width="1.03"/>
<polyline points="129.56,195.5 135.92,195.5 142.28,194.27 148.64,191.07 155,190.12 161.36,189.59 167.72,177.22 174.08,183.2 180.44,167.38 186.8,146.29 193.16,99.89 205.88,42.25" stroke="#E7298A" stroke-width="1.03"/>
<polyline points="129.56,195.5 135.92,195.5 142.28,194.27 148.64,191.07 155,190.12 161.36,189.59 167.72,177.93 174.08,183.9 180.44,168.79 186.8,151.56 193.16,112.9 199.52,88.29 205.88,63.34" stroke="#E7298A" stroke-width="1.03"/>
<polyline points="129.56,195.5 135.92,195.5 142.28,194.45 148.64,191.28 155,190.23 161.36,189.7 167.72,177.93 174.08,184.96 180.44,170.19 186.8,155.08 193.16,117.47 199.52,93.57 205.88,70.72" stroke="#E7298A" stroke-width="1.03"/>
<polyline points="129.56,195.5 135.92,195.5 142.28,194.45 148.64,191.28 155,190.23 161.36,189.88 167.72,178.63 174.08,184.96 180.44,170.9 186.8,156.13 193.16,119.22 199.52,97.08 205.88,75.64" stroke="#E7298A" stroke-width="1.03"/>
</g>
<text x="40.7" y="48.1" font-size="8.7" font-family="Liberation Sans, sans-serif" font-weight="bold" stroke="#000" stroke-width="0.22">Cu DS slope</text>
<text x="40.9" y="57.5" font-size="8.7" font-family="Liberation Sans, sans-serif" font-weight="bold" stroke="#000" stroke-width="0.22">% of hist.</text>
<line x1="41.2" x2="54.2" y1="63.9" y2="63.9" stroke="#1B9E77" stroke-width="2.9" stroke-linecap="round"/>
<text x="60.5" y="67.1" font-size="9.0" font-family="Liberation Sans, sans-serif" font-weight="bold" stroke="#000" stroke-width="0.22">−50</text>
<line x1="41.2" x2="54.2" y1="73.65" y2="73.65" stroke="#D95F02" stroke-width="2.9" stroke-linecap="round"/>
<text x="60.5" y="76.85" font-size="9.0" font-family="Liberation Sans, sans-serif" font-weight="bold" stroke="#000" stroke-width="0.22">−25</text>
<line x1="41.2" x2="54.2" y1="83.4" y2="83.4" stroke="#7570B3" stroke-width="2.9" stroke-linecap="round"/>
<text x="60.5" y="86.6" font-size="9.0" font-family="Liberation Sans, sans-serif" font-weight="bold" stroke="#000" stroke-width="0.22">+50</text>
<line x1="41.2" x2="54.2" y1="93.15" y2="93.15" stroke="#E7298A" stroke-width="2.9" stroke-linecap="round"/>
<text x="60.5" y="96.35" font-size="9.0" font-family="Liberation Sans, sans-serif" font-weight="bold" stroke="#000" stroke-width="0.22">+100</text>
<rect x="33.1" y="33.9" width="176.9" height="172.7" fill="none" stroke="#000" stroke-width="1.7"/>
<line x1="124.85" x2="124.85" y1="33.9" y2="206.6" stroke="#000" stroke-width="2.4"/>
<line x1="33.1" x2="36.5" y1="195.5" y2="195.5" stroke="#000" stroke-width="1.1"/>
<text x="31.1" y="198.95" font-size="9.7" text-anchor="end" font-family="Liberation Sans, sans-serif" font-weight="bold" stroke="#000" stroke-width="0.05">0</text>
<line x1="33.1" x2="36.5" y1="160.35" y2="160.35" stroke="#000" stroke-width="1.1"/>
<text x="31.1" y="163.8" font-size="9.7" text-anchor="end" font-family="Liberation Sans, sans-serif" font-weight="bold" stroke="#000" stroke-width="0.05">100</text>
<line x1="33.1" x2="36.5" y1="125.2" y2="125.2" stroke="#000" stroke-width="1.1"/>
<text x="31.1" y="128.65" font-size="9.7" text-anchor="end" font-family="Liberation Sans, sans-serif" font-weight="bold" stroke="#000" stroke-width="0.05">200</text>
<line x1="33.1" x2="36.5" y1="90.05" y2="90.05" stroke="#000" stroke-width="1.1"/>
<text x="31.1" y="93.5" font-size="9.7" text-anchor="end" font-family="Liberation Sans, sans-serif" font-weight="bold" stroke="#000" stroke-width="0.05">300</text>
<line x1="33.1" x2="36.5" y1="54.9" y2="54.9" stroke="#000" stroke-width="1.1"/>
<text x="31.1" y="58.35" font-size="9.7" text-anchor="end" font-family="Liberation Sans, sans-serif" font-weight="bold" stroke="#000" stroke-width="0.05">400</text>
<line x1="65" x2="65" y1="206.6" y2="203.2" stroke="#000" stroke-width="1.1"/>
<text x="65" y="215.2" font-size="9.8" text-anchor="middle" font-family="Liberation Sans, sans-serif" font-weight="bold" stroke="#000" stroke-width="0.05">2025</text>
<line x1="155" x2="155" y1="206.6" y2="203.2" stroke="#000" stroke-width="1.1"/>
<text x="155" y="215.2" font-size="9.8" text-anchor="middle" font-family="Liberation Sans, sans-serif" font-weight="bold" stroke="#000" stroke-width="0.05">2025</text>
<line x1="99.6" x2="99.6" y1="206.6" y2="203.2" stroke="#000" stroke-width="1.1"/>
<text x="99.6" y="215.2" font-size="9.8" text-anchor="middle" font-family="Liberation Sans, sans-serif" font-weight="bold" stroke="#000" stroke-width="0.05">2030</text>
<line x1="186.8" x2="186.8" y1="206.6" y2="203.2" stroke="#000" stroke-width="1.1"/>
<text x="186.8" y="215.2" font-size="9.8" text-anchor="middle" font-family="Liberation Sans, sans-serif" font-weight="bold" stroke="#000" stroke-width="0.05">2030</text>
<text x="78.97" y="226.2" font-size="9.9" text-anchor="middle" font-family="Liberation Sans, sans-serif" font-weight="bold" stroke="#000" stroke-width="0.22">Year</text>
<text x="167.43" y="226.2" font-size="9.9" text-anchor="middle" font-family="Liberation Sans, sans-serif" font-weight="bold" stroke="#000" stroke-width="0.22">Year</text>
<text x="78.38" y="30.7" font-size="10.5" text-anchor="middle" font-family="Liberation Sans, sans-serif" font-weight="bold" stroke="#000" stroke-width="0.22">4D</text>
<text x="167.62" y="30.7" font-size="10.5" text-anchor="middle" font-family="Liberation Sans, sans-serif" font-weight="bold" stroke="#000" stroke-width="0.22">2D</text>
<text x="121.15" y="8.1" font-size="10.6" text-anchor="middle" font-family="Liberation Sans, sans-serif" font-weight="bold" stroke="#000" stroke-width="0.22">Change in copper price due to</text>
<text x="121.15" y="19.9" font-size="10.6" text-anchor="middle" font-family="Liberation Sans, sans-serif" font-weight="bold" stroke="#000" stroke-width="0.22">copper demand shifter change</text>
<text x="-0.6" y="7.8" font-size="9.6" font-family="Liberation Sans, sans-serif" font-weight="bold" stroke="#000" stroke-width="0.22">e)</text>
<text transform="translate(10.81,120.25) rotate(-90)" font-size="9.8" text-anchor="middle" font-family="Liberation Sans, sans-serif" font-weight="bold" stroke="#000" stroke-width="0.22">% change in PRICE, rel. 2020</text>
</g>
<g transform="translate(474.5,236.75)">
<line x1="33.1" x2="210" y1="180.2" y2="180.2" stroke="#F1F1F1" stroke-width="1.1"/>
<line x1="33.1" x2="210" y1="150.3" y2="150.3" stroke="#F1F1F1" stroke-width="1.1"/>
<line x1="33.1" x2="210" y1="120.4" y2="120.4" stroke="#F1F1F1" stroke-width="1.1"/>
<line x1="33.1" x2="210" y1="90.5" y2="90.5" stroke="#F1F1F1" stroke-width="1.1"/>
<line x1="33.1" x2="210" y1="60.6" y2="60.6" stroke="#F1F1F1" stroke-width="1.1"/>
<line x1="65" x2="65" y1="33.9" y2="206.6" stroke="#F1F1F1" stroke-width="1.1"/>
<line x1="155" x2="155" y1="33.9" y2="206.6" stroke="#F1F1F1" stroke-width="1.1"/>
<line x1="99.6" x2="99.6" y1="33.9" y2="206.6" stroke="#F1F1F1" stroke-width="1.1"/>
<line x1="186.8" x2="186.8" y1="33.9" y2="206.6" stroke="#F1F1F1" stroke-width="1.1"/>
<g fill="none" stroke-linejoin="round" stroke-linecap="round">
<polyline points="37.32,120.4 65,120.4 71.92,114.42 78.84,120.4 85.76,117.41 92.68,120.4 99.6,101.86 106.52,120.4 113.44,42.06 120.36,120.4" stroke="#1B9E77" stroke-width="0.92"/>
<polyline points="37.32,120.4 65,120.4 71.92,117.41 78.84,120.4 92.68,120.4 99.6,106.05 106.52,126.38 113.44,120.4 120.36,120.4" stroke="#1B9E77" stroke-width="0.92"/>
<polyline points="37.32,120.4 65,120.4 71.92,118.61 78.84,120.4 85.76,118.61 92.68,120.4 99.6,111.43 106.52,120.4 120.36,120.4" stroke="#1B9E77" stroke-width="0.86"/>
<polyline points="37.32,120.4 65,120.4 71.92,112.63 78.84,119.2 85.76,120.4 120.36,120.4" stroke="#D95F02" stroke-width="0.86"/>
<polyline points="37.32,120.4 65,120.4 71.92,126.38 78.84,120.4 85.76,94.09 92.68,121.6 99.6,120.4 120.36,120.4" stroke="#7570B3" stroke-width="0.86" stroke-opacity="0.8"/>
<polyline points="37.32,120.4 51.16,120.4 58.08,127.58 65,120.4 120.36,120.4" stroke="#E7298A" stroke-width="0.86"/>
<polyline points="37.32,120.4 65,120.4 71.92,105.45 78.84,124.59 85.76,112.63 92.68,123.39 99.6,120.4 120.36,120.4" stroke="#E7298A" stroke-width="0.86"/>
<polyline points="37.32,120.4 65,120.4 71.92,141.33 78.84,112.63 85.76,120.4 92.68,138.34 99.6,120.4 106.52,149.7 113.44,147.31 120.36,198.14" stroke="#E7298A" stroke-width="0.86"/>
<polyline points="37.32,120.4 65,120.4 71.92,126.38 78.84,117.41 85.76,123.39 92.68,114.42 99.6,126.38 106.52,120.4 120.36,120.4" stroke="#E7298A" stroke-width="0.86"/>
<polyline points="37.32,120.4 120.36,120.4" stroke="#E7298A" stroke-width="0.98"/>
<polyline points="129.56,120.4 205.88,120.4" stroke="#E7298A" stroke-width="0.98"/>
</g>
<text x="40.7" y="48.1" font-size="8.7" font-family="Liberation Sans, sans-serif" font-weight="bold" stroke="#000" stroke-width="0.22">Cu DS slope</text>
<text x="40.9" y="57.5" font-size="8.7" font-family="Liberation Sans, sans-serif" font-weight="bold" stroke="#000" stroke-width="0.22">% of hist.</text>
<line x1="41.2" x2="54.2" y1="63.9" y2="63.9" stroke="#1B9E77" stroke-width="2.9" stroke-linecap="round"/>
<text x="60.5" y="67.1" font-size="9.0" font-family="Liberation Sans, sans-serif" font-weight="bold" stroke="#000" stroke-width="0.22">−50</text>
<line x1="41.2" x2="54.2" y1="73.65" y2="73.65" stroke="#D95F02" stroke-width="2.9" stroke-linecap="round"/>
<text x="60.5" y="76.85" font-size="9.0" font-family="Liberation Sans, sans-serif" font-weight="bold" stroke="#000" stroke-width="0.22">−25</text>
<line x1="41.2" x2="54.2" y1="83.4" y2="83.4" stroke="#7570B3" stroke-width="2.9" stroke-linecap="round"/>
<text x="60.5" y="86.6" font-size="9.0" font-family="Liberation Sans, sans-serif" font-weight="bold" stroke="#000" stroke-width="0.22">+50</text>
<line x1="41.2" x2="54.2" y1="93.15" y2="93.15" stroke="#E7298A" stroke-width="2.9" stroke-linecap="round"/>
<text x="60.5" y="96.35" font-size="9.0" font-family="Liberation Sans, sans-serif" font-weight="bold" stroke="#000" stroke-width="0.22">+100</text>
<rect x="33.1" y="33.9" width="176.9" height="172.7" fill="none" stroke="#000" stroke-width="1.7"/>
<line x1="124.85" x2="124.85" y1="33.9" y2="206.6" stroke="#000" stroke-width="2.4"/>
<line x1="33.1" x2="36.5" y1="180.2" y2="180.2" stroke="#000" stroke-width="1.1"/>
<text x="31.1" y="183.65" font-size="9.7" text-anchor="end" font-family="Liberation Sans, sans-serif" font-weight="bold" stroke="#000" stroke-width="0.05">−10</text>
<line x1="33.1" x2="36.5" y1="150.3" y2="150.3" stroke="#000" stroke-width="1.1"/>
<text x="31.1" y="153.75" font-size="9.7" text-anchor="end" font-family="Liberation Sans, sans-serif" font-weight="bold" stroke="#000" stroke-width="0.05">−5</text>
<line x1="33.1" x2="36.5" y1="120.4" y2="120.4" stroke="#000" stroke-width="1.1"/>
<text x="31.1" y="123.85" font-size="9.7" text-anchor="end" font-family="Liberation Sans, sans-serif" font-weight="bold" stroke="#000" stroke-width="0.05">0</text>
<line x1="33.1" x2="36.5" y1="90.5" y2="90.5" stroke="#000" stroke-width="1.1"/>
<text x="31.1" y="93.95" font-size="9.7" text-anchor="end" font-family="Liberation Sans, sans-serif" font-weight="bold" stroke="#000" stroke-width="0.05">5</text>
<line x1="33.1" x2="36.5" y1="60.6" y2="60.6" stroke="#000" stroke-width="1.1"/>
<text x="31.1" y="64.05" font-size="9.7" text-anchor="end" font-family="Liberation Sans, sans-serif" font-weight="bold" stroke="#000" stroke-width="0.05">10</text>
<line x1="65" x2="65" y1="206.6" y2="203.2" stroke="#000" stroke-width="1.1"/>
<text x="65" y="215.2" font-size="9.8" text-anchor="middle" font-family="Liberation Sans, sans-serif" font-weight="bold" stroke="#000" stroke-width="0.05">2025</text>
<line x1="155" x2="155" y1="206.6" y2="203.2" stroke="#000" stroke-width="1.1"/>
<text x="155" y="215.2" font-size="9.8" text-anchor="middle" font-family="Liberation Sans, sans-serif" font-weight="bold" stroke="#000" stroke-width="0.05">2025</text>
<line x1="99.6" x2="99.6" y1="206.6" y2="203.2" stroke="#000" stroke-width="1.1"/>
<text x="99.6" y="215.2" font-size="9.8" text-anchor="middle" font-family="Liberation Sans, sans-serif" font-weight="bold" stroke="#000" stroke-width="0.05">2030</text>
<line x1="186.8" x2="186.8" y1="206.6" y2="203.2" stroke="#000" stroke-width="1.1"/>
<text x="186.8" y="215.2" font-size="9.8" text-anchor="middle" font-family="Liberation Sans, sans-serif" font-weight="bold" stroke="#000" stroke-width="0.05">2030</text>
<text x="78.97" y="226.2" font-size="9.9" text-anchor="middle" font-family="Liberation Sans, sans-serif" font-weight="bold" stroke="#000" stroke-width="0.22">Year</text>
<text x="167.43" y="226.2" font-size="9.9" text-anchor="middle" font-family="Liberation Sans, sans-serif" font-weight="bold" stroke="#000" stroke-width="0.22">Year</text>
<text x="78.38" y="30.7" font-size="10.5" text-anchor="middle" font-family="Liberation Sans, sans-serif" font-weight="bold" stroke="#000" stroke-width="0.22">4D</text>
<text x="167.62" y="30.7" font-size="10.5" text-anchor="middle" font-family="Liberation Sans, sans-serif" font-weight="bold" stroke="#000" stroke-width="0.22">2D</text>
<text x="121.15" y="8.1" font-size="10.6" text-anchor="middle" font-family="Liberation Sans, sans-serif" font-weight="bold" stroke="#000" stroke-width="0.22">Change in nickel price due to</text>
<text x="121.15" y="19.9" font-size="10.6" text-anchor="middle" font-family="Liberation Sans, sans-serif" font-weight="bold" stroke="#000" stroke-width="0.22">copper demand shifter change</text>
<text x="-0.6" y="7.8" font-size="9.6" font-family="Liberation Sans, sans-serif" font-weight="bold" stroke="#000" stroke-width="0.22">f)</text>
<text transform="translate(10.55,120.25) rotate(-90)" font-size="9.8" text-anchor="middle" font-family="Liberation Sans, sans-serif" font-weight="bold" stroke="#000" stroke-width="0.22">% change in PRICE, rel. 2020</text>
</g>
<g transform="translate(0,473.45)">
<line x1="33.1" x2="210" y1="184.2" y2="184.2" stroke="#F1F1F1" stroke-width="1.1"/>
<line x1="33.1" x2="210" y1="148.2" y2="148.2" stroke="#F1F1F1" stroke-width="1.1"/>
<line x1="33.1" x2="210" y1="112.2" y2="112.2" stroke="#F1F1F1" stroke-width="1.1"/>
<line x1="33.1" x2="210" y1="76.2" y2="76.2" stroke="#F1F1F1" stroke-width="1.1"/>
<line x1="33.1" x2="210" y1="40.2" y2="40.2" stroke="#F1F1F1" stroke-width="1.1"/>
<line x1="65" x2="65" y1="33.9" y2="206.6" stroke="#F1F1F1" stroke-width="1.1"/>
<line x1="155" x2="155" y1="33.9" y2="206.6" stroke="#F1F1F1" stroke-width="1.1"/>
<line x1="99.6" x2="99.6" y1="33.9" y2="206.6" stroke="#F1F1F1" stroke-width="1.1"/>
<line x1="186.8" x2="186.8" y1="33.9" y2="206.6" stroke="#F1F1F1" stroke-width="1.1"/>
<g fill="none" stroke-linejoin="round" stroke-linecap="round">
<polyline points="37.32,112.2 51.16,112.2 58.08,111.66 65,110.1 71.92,108 78.84,104.95 85.76,106.8 92.68,106.8 99.6,105 106.52,99.1 113.44,100.93 120.36,103.2" stroke="#1B9E77" stroke-width="0.86"/>
<polyline points="37.32,112.2 51.16,112.2 58.08,111.48 65,110.2 71.92,107.3 78.84,102.41 85.76,106.8 92.68,101.14 99.6,101.68 106.52,96.01 113.44,105 120.36,102.69" stroke="#1B9E77" stroke-width="0.86"/>
<polyline points="37.32,112.2 51.16,112.2 58.08,111.34 65,109.64 71.92,107.17 78.84,103.44 85.76,106.8 92.68,105.2 99.6,102.91 106.52,95.04 113.44,105 120.36,95.5" stroke="#1B9E77" stroke-width="0.86"/>
<polyline points="37.32,112.2 51.16,112.2 58.08,111.57 65,109.22 71.92,108.38 78.84,105 85.76,100.35 92.68,105.37 99.6,93.88 106.52,96.89 113.44,100.22 120.36,94.27" stroke="#1B9E77" stroke-width="0.86"/>
<polyline points="37.32,112.2 51.16,112.2 58.08,111.42 65,108.74 71.92,107.05 78.84,102.21 85.76,104.45 92.68,106.57 99.6,93.57 106.52,102.97 113.44,105 120.36,92.74" stroke="#1B9E77" stroke-width="0.86"/>
<polyline points="37.32,112.2 51.16,112.2 58.08,111.46 65,109.23 71.92,102.71 78.84,98.5 85.76,102.21 92.68,100.76 99.6,99.44 106.52,84.5 113.44,91.86 120.36,96.42" stroke="#1B9E77" stroke-width="0.86"/>
<polyline points="37.32,112.2 51.16,112.2 58.08,111.27 65,109.06 71.92,105.51 78.84,100.01 85.76,101.91 92.68,101.56 99.6,100.87 106.52,81.28 113.44,94.72 120.36,90.96" stroke="#1B9E77" stroke-width="0.86"/>
<polyline points="37.32,112.2 51.16,112.2 58.08,111.37 65,108.34 71.92,104.34 78.84,99.3 85.76,99.25 92.68,96.74 99.6,88.59 106.52,84.7 113.44,90.22 120.36,85.06" stroke="#1B9E77" stroke-width="0.86"/>
<polyline points="37.32,112.2 51.16,112.2 58.08,111.22 65,109.51 71.92,104.44 78.84,100.76 85.76,99.81 92.68,99.5 99.6,95.94 106.52,86.18 113.44,94.16 120.36,84.72" stroke="#1B9E77" stroke-width="0.86"/>
<polyline points="37.32,112.2 51.16,112.2 58.08,111.28 65,108.9 71.92,102.31 78.84,96.9 85.76,99.05 92.68,96.59 99.6,88.32 106.52,79.17 113.44,89.27 120.36,79.82" stroke="#1B9E77" stroke-width="0.86"/>
<polyline points="37.32,112.2 51.16,112.2 58.08,111.36 65,107.96 71.92,103.34 78.84,100.45 85.76,101.94 92.68,97.37 99.6,87 106.52,79.13 113.44,89.76 120.36,89.62" stroke="#1B9E77" stroke-width="0.86"/>
<polyline points="37.32,112.2 51.16,112.2 58.08,111.25 65,107.7 71.92,104.13 78.84,96.9 85.76,98.7 92.68,96 99.6,90.95 106.52,83.53 113.44,94.76 120.36,81.14" stroke="#1B9E77" stroke-width="0.86"/>
<polyline points="37.32,112.2 51.16,112.2 58.08,111.73 65,107.82 71.92,104.85 78.84,107.51 85.76,103.42 92.68,103.91 99.6,97.2 106.52,105.69 113.44,103.35 120.36,105.15" stroke="#D95F02" stroke-width="0.86"/>
<polyline points="37.32,112.2 51.16,112.2 58.08,111.35 65,108.44 71.92,105.71 78.84,109.22 85.76,104.74 92.68,103.42 99.6,99.52 106.52,106.14 113.44,103.67 120.36,105.4" stroke="#D95F02" stroke-width="0.86"/>
<polyline points="37.32,112.2 51.16,112.2 58.08,111.77 65,106.6 71.92,104.18 78.84,106.25 85.76,103.74 92.68,104.5 99.6,103.44 106.52,109.13 113.44,106.21 120.36,107.42" stroke="#D95F02" stroke-width="0.86"/>
<polyline points="37.32,112.2 51.16,112.2 58.08,111.71 65,107.92 71.92,107.6 78.84,110.04 85.76,107.34 92.68,104.57 99.6,100.87 106.52,106.59 113.44,104.55 120.36,106.75" stroke="#D95F02" stroke-width="0.86"/>
<polyline points="37.32,112.2 51.16,112.2 58.08,111.12 65,107.07 71.92,106.25 78.84,111.94 85.76,109.37 92.68,105.99 99.6,100.94 106.52,108.63 113.44,107.18 120.36,107.92" stroke="#D95F02" stroke-width="0.86"/>
<polyline points="37.32,112.2 51.16,112.2 58.08,111.54 65,108.29 71.92,107.4 78.84,111.25 85.76,106.54 92.68,105.01 99.6,101.42 106.52,106.83 113.44,100.2 120.36,103.19" stroke="#D95F02" stroke-width="0.86"/>
<polyline points="37.32,112.2 51.16,112.2 58.08,111.62 65,108.6 71.92,107.36 78.84,110.72 85.76,107.03 92.68,105.04 99.6,103.16 106.52,108.54 113.44,107.28 120.36,113.08" stroke="#D95F02" stroke-width="0.86"/>
<polyline points="37.32,112.2 51.16,112.2 58.08,111.49 65,107.89 71.92,105.68 78.84,109.11 85.76,104.34 92.68,103.5 99.6,96.79 106.52,104.37 113.44,103.18 120.36,107.6" stroke="#D95F02" stroke-width="0.86"/>
<polyline points="37.32,112.2 51.16,112.2 58.08,110.99 65,107.38 71.92,105.42 78.84,107.65 85.76,106.63 92.68,103.89 99.6,97.56 106.52,104.9 113.44,103.23 120.36,103.37" stroke="#D95F02" stroke-width="0.86"/>
<polyline points="37.32,112.2 51.16,112.2 58.08,111.22 65,107.39 71.92,105.49 78.84,109.2 85.76,107.96 92.68,107 99.6,103.43 106.52,107.85 113.44,102.64 120.36,100.6" stroke="#D95F02" stroke-width="0.86"/>
<polyline points="37.32,112.2 51.16,112.2 58.08,113.87 65,115.7 71.92,115.8 78.84,114.89 85.76,117.99 92.68,124.77 99.6,142.98 106.52,130.31 113.44,132.43 120.36,132.81" stroke="#7570B3" stroke-width="0.86"/>
<polyline points="37.32,112.2 51.16,112.2 58.08,112.75 65,113.41 71.92,114.88 78.84,114.15 85.76,116.91 92.68,117.75 99.6,124.07 106.52,122.56 113.44,124.66 120.36,127.05" stroke="#7570B3" stroke-width="0.86"/>
<polyline points="37.32,112.2 51.16,112.2 58.08,111.92 65,112.88 71.92,113.46 78.84,112.41 85.76,113 92.68,112.8 99.6,118.42 106.52,118.42 113.44,121.65 120.36,121.86" stroke="#7570B3" stroke-width="0.86"/>
<polyline points="37.32,112.2 51.16,112.2 58.08,112.85 65,114.32 71.92,114.84 78.84,113.75 85.76,114.89 92.68,117.24 99.6,126.3 106.52,122.82 113.44,125.09 120.36,126.35" stroke="#7570B3" stroke-width="0.86"/>
<polyline points="37.32,112.2 51.16,112.2 58.08,113.8 65,114.92 71.92,115.56 78.84,114.31 85.76,117.27 92.68,121.23 99.6,132.17 106.52,126.88 113.44,127.99 120.36,129.88" stroke="#7570B3" stroke-width="0.86"/>
<polyline points="37.32,112.2 51.16,112.2 58.08,113.24 65,114.61 71.92,116.06 78.84,114.79 85.76,116.69 92.68,121.07 99.6,136.37 106.52,129.53 113.44,131.74 120.36,131.47" stroke="#7570B3" stroke-width="0.86"/>
<polyline points="37.32,112.2 44.24,112.2 51.16,114 58.08,106.8 65,126.6 71.92,117.6 78.84,110.4 85.76,119.4 92.68,121.2 99.6,128.4 106.52,117.6 113.44,137.4 120.36,121.2" stroke="#E7298A" stroke-width="0.86"/>
<polyline points="37.32,112.2 44.24,112.2 51.16,114 58.08,123 65,112.2 71.92,124.8 78.84,126.6 85.76,115.8 92.68,119.4 99.6,135.6 106.52,124.8 113.44,128.4 120.36,117.6" stroke="#E7298A" stroke-width="0.86"/>
<polyline points="37.32,112.2 51.16,112.2 58.08,117.6 65,126.6 71.92,114 78.84,126.6 85.76,121.2 92.68,117.6 99.6,141 106.52,121.2 113.44,133.8 120.36,130.2" stroke="#E7298A" stroke-width="0.86"/>
<polyline points="37.32,112.2 51.16,112.2 65,115.8 71.92,119.4 78.84,110.4 85.76,117.6 92.68,128.4 99.6,123 106.52,130.2 113.44,142.8 120.36,126.6" stroke="#E7298A" stroke-width="0.86"/>
<polyline points="37.32,112.2 44.24,112.2 51.16,113.1 58.08,121.2 65,115.8 71.92,123 78.84,114 85.76,123 92.68,126.6 99.6,133.8 106.52,126.6 113.44,130.2 120.36,132" stroke="#E7298A" stroke-width="0.86"/>
<polyline points="37.32,112.2 51.16,112.2 58.08,115.8 65,123 71.92,117.6 78.84,124.8 85.76,119.4 99.6,126.6 106.52,119.4 113.44,123 120.36,114" stroke="#E7298A" stroke-width="0.86"/>
<polyline points="37.32,112.2 51.16,112.2 58.08,114 65,117.6 71.92,112.2 78.84,121.2 85.76,114 99.6,121.2 106.52,128.4 113.44,117.6 120.36,155.4" stroke="#E7298A" stroke-width="0.86"/>
<polyline points="37.32,112.2 51.16,112.2 58.08,110.4 65,114 71.92,115.8 78.84,112.2 85.76,115.8 92.68,114 99.6,117.6 106.52,115.8 113.44,119.4 120.36,115.8" stroke="#E7298A" stroke-width="0.86"/>
<polyline points="37.32,112.2 120.36,112.2" stroke="#E7298A" stroke-width="0.98"/>
<polyline points="37.32,112.2 44.24,113.64 51.16,118.5 58.08,134.52 65,142.62 71.92,146.4 78.84,146.4 85.76,151.62 92.68,150.54 99.6,160.62 106.52,157.56 120.36,157.56" stroke="#E7298A" stroke-width="1.03"/>
<polyline points="37.32,112.2 44.24,113.64 51.16,118.5 58.08,133.8 65,141.9 71.92,145.86 78.84,146.76 85.76,150.9 92.68,150.54 99.6,159.9 106.52,166.2 113.44,171.6 120.36,168" stroke="#E7298A" stroke-width="1.03"/>
<polyline points="37.32,112.2 44.24,113.64 51.16,118.14 58.08,134.16 65,142.26 71.92,146.4 78.84,147.12 85.76,151.44 92.68,150 99.6,161.7 106.52,167.1 113.44,175.2 120.36,175.2" stroke="#E7298A" stroke-width="1.03"/>
<polyline points="37.32,112.2 44.24,113.64 51.16,118.5 58.08,133.44 65,141.54 71.92,145.5 78.84,146.4 85.76,150.36 92.68,150.9 99.6,160.44 106.52,165.3 113.44,177 120.36,174.3" stroke="#E7298A" stroke-width="0.86"/>
<polyline points="129.56,112.2 142.28,112.2 148.64,108.04 155,99.37 161.36,88.21 167.72,89.36 174.08,68.06 180.44,63.19 186.8,58.05 193.16,49.76 199.52,43.05 205.88,53.86" stroke="#1B9E77" stroke-width="0.86"/>
<polyline points="129.56,112.2 142.28,112.2 148.64,107.86 155,99.1 161.36,87.42 167.72,88.38 174.08,66.88 180.44,61.99 186.8,56.94 193.16,48.29 199.52,42.06 205.88,51.4" stroke="#1B9E77" stroke-width="0.86"/>
<polyline points="129.56,112.2 142.28,112.2 148.64,107.56 155,98.87 161.36,87.17 167.72,88.03 174.08,66.97 180.44,62.02 186.8,56.54 193.16,46.88 199.52,40.72 205.88,47.17" stroke="#1B9E77" stroke-width="0.86"/>
<polyline points="129.56,112.2 142.28,112.2 148.64,107.67 155,98.71 161.36,87.15 167.72,88.1 174.08,67.17 180.44,61.92 186.8,57.05 193.16,47.64 199.52,41.9 205.88,49.12" stroke="#1B9E77" stroke-width="0.86"/>
<polyline points="129.56,112.2 142.28,112.2 148.64,109.44 155,103.14 161.36,98.33 167.72,98.73 174.08,93.98 180.44,89.66 186.8,90.24 193.16,90.5 199.52,90.36 205.88,94.64" stroke="#1B9E77" stroke-width="0.86"/>
<polyline points="129.56,112.2 142.28,112.2 148.64,109.36 155,101.62 161.36,97.52 167.72,100.49 174.08,95.75 180.44,90.42 186.8,88.84 193.16,96.88 199.52,95.61 205.88,97.37" stroke="#1B9E77" stroke-width="0.86"/>
<polyline points="129.56,112.2 142.28,112.2 148.64,111.23 155,103.59 161.36,99.72 167.72,97.33 174.08,90.4 180.44,91.16 186.8,87.77 193.16,97.82 199.52,96.33 205.88,98.35" stroke="#1B9E77" stroke-width="0.86"/>
<polyline points="129.56,112.2 142.28,112.2 148.64,108.83 155,100.13 161.36,97.86 167.72,99.05 174.08,94.62 180.44,88.18 186.8,91.14 193.16,85.28 199.52,94.33 205.88,101.96" stroke="#1B9E77" stroke-width="0.86"/>
<polyline points="129.56,112.2 142.28,112.2 148.64,108 155,99.77 161.36,98.41 167.72,98.83 174.08,90.73 180.44,92.56 186.8,91.17 193.16,94.22 199.52,95.62 205.88,93.26" stroke="#1B9E77" stroke-width="0.86"/>
<polyline points="129.56,112.2 142.28,112.2 148.64,109.56 155,102.25 161.36,96.93 167.72,97.87 174.08,92.6 180.44,84.41 186.8,90.94 193.16,96.87 199.52,104.32 205.88,106.29" stroke="#1B9E77" stroke-width="0.86"/>
<polyline points="129.56,112.2 142.28,112.2 148.64,109.33 155,101.21 161.36,96.61 167.72,95.61 174.08,91.02 180.44,92.5 186.8,89.35 193.16,94.1 199.52,90.02 205.88,95.67" stroke="#1B9E77" stroke-width="0.86"/>
<polyline points="129.56,112.2 142.28,112.2 148.64,108.95 155,101.55 161.36,97.44 167.72,94.11 174.08,87.16 180.44,77.51 186.8,92.86 193.16,91.72 199.52,88.8 205.88,94.31" stroke="#1B9E77" stroke-width="0.86"/>
<polyline points="129.56,112.2 142.28,112.2 148.64,108.72 155,99.85 161.36,90.2 167.72,94.32 174.08,87.59 180.44,69.94 186.8,74.46 193.16,73.74 199.52,63.7 205.88,66.36" stroke="#D95F02" stroke-width="0.86"/>
<polyline points="129.56,112.2 142.28,112.2 148.64,109.36 155,100.57 161.36,91.28 167.72,95.81 174.08,89.24 180.44,72.14 186.8,79.42 193.16,77.4 199.52,67.94 205.88,71.65" stroke="#D95F02" stroke-width="0.86"/>
<polyline points="129.56,112.2 142.28,112.2 148.64,108.45 155,99.41 161.36,89.31 167.72,93.35 174.08,87.4 180.44,69.8 186.8,72.89 193.16,73.35 199.52,62.45 205.88,65.03" stroke="#D95F02" stroke-width="0.86"/>
<polyline points="129.56,112.2 142.28,112.2 148.64,108.9 155,99.81 161.36,90.22 167.72,94.73 174.08,88.41 180.44,70.91 186.8,75.49 193.16,74.69 199.52,63.72 205.88,67.31" stroke="#D95F02" stroke-width="0.86"/>
<polyline points="129.56,112.2 142.28,112.2 148.64,110.69 155,105.41 161.36,102.14 167.72,104 174.08,96.62 180.44,96.7 186.8,94.69 193.16,100.37 199.52,103.97 205.88,100.87" stroke="#D95F02" stroke-width="0.86"/>
<polyline points="129.56,112.2 142.28,112.2 148.64,110.24 155,105.51 161.36,100.77 167.72,102.5 174.08,95.9 180.44,101.09 186.8,108.59 193.16,112.2 199.52,103.48 205.88,101.89" stroke="#D95F02" stroke-width="0.86"/>
<polyline points="129.56,112.2 142.28,112.2 148.64,110.7 155,105.74 161.36,106.18 167.72,112.2 174.08,105.97 180.44,108.69 186.8,107.32 193.16,112.2 199.52,110.5 205.88,110.51" stroke="#D95F02" stroke-width="0.86"/>
<polyline points="129.56,112.2 142.28,112.2 148.64,110.62 155,102.97 161.36,97.94 167.72,105.61 174.08,102.66 180.44,96.21 186.8,98.3 193.16,101.67 199.52,98.79 205.88,97.3" stroke="#D95F02" stroke-width="0.86"/>
<polyline points="129.56,112.2 142.28,112.2 148.64,109.78 155,103.45 161.36,98.51 167.72,99.17 174.08,97.9 180.44,91.55 186.8,97.39 193.16,99.82 199.52,99.87 205.88,98.8" stroke="#D95F02" stroke-width="0.86"/>
<polyline points="129.56,112.2 142.28,112.2 148.64,109.57 155,106.17 161.36,103.85 167.72,100.31 174.08,96.42 180.44,100.29 186.8,102.15 193.16,96.48 199.52,100.91 205.88,103.22" stroke="#D95F02" stroke-width="0.86"/>
<polyline points="129.56,112.2 142.28,112.2 148.64,109.55 155,102.63 161.36,105.02 167.72,104.81 174.08,101.79 180.44,106.68 186.8,105.64 193.16,104.61 199.52,102.29 205.88,97.37" stroke="#D95F02" stroke-width="0.86"/>
<polyline points="129.56,112.2 142.28,112.2 148.64,109.99 155,106.28 161.36,100.98 167.72,103 174.08,104.39 180.44,112.2 186.8,102.18 193.16,100.7 199.52,101.92 205.88,106.54" stroke="#D95F02" stroke-width="0.86"/>
<polyline points="129.56,112.2 135.92,112.2 142.28,112.7 148.64,117.2 155,119.18 161.36,115.76 167.72,116.71 174.08,122.77 180.44,130.55 186.8,134.22 193.16,132.41 199.52,128.89 205.88,122.76" stroke="#7570B3" stroke-width="0.86"/>
<polyline points="129.56,112.2 135.92,112.2 142.28,113.49 148.64,117.36 155,118.99 161.36,116.28 167.72,122.06 174.08,124.35 180.44,133.19 186.8,137.91 193.16,141.37 199.52,138.61 205.88,134.65" stroke="#7570B3" stroke-width="0.86"/>
<polyline points="129.56,112.2 135.92,112.2 142.28,112.97 148.64,117.51 155,120.28 161.36,115.3 167.72,119.49 174.08,121.08 180.44,137.12 186.8,141.59 193.16,137.28 199.52,129.83 205.88,135.92" stroke="#7570B3" stroke-width="0.86"/>
<polyline points="129.56,112.2 135.92,112.2 142.28,112.86 148.64,117.89 155,120.02 161.36,118.71 167.72,118.28 174.08,119.97 180.44,131.66 186.8,136.46 193.16,133.4 199.52,130.77 205.88,136.15" stroke="#7570B3" stroke-width="0.86"/>
<polyline points="129.56,112.2 135.92,112.2 142.28,113.26 148.64,117.6 155,118.62 161.36,113.77 167.72,112.89 174.08,106.25 180.44,125.9 186.8,131.38 193.16,128.52 199.52,131.9 205.88,131.43" stroke="#7570B3" stroke-width="0.86"/>
<polyline points="129.56,112.2 135.92,112.2 142.28,114.19 148.64,119.29 155,120.51 161.36,123.32 167.72,134.79 174.08,144.07 180.44,154.1 186.8,165.87 193.16,163.71 199.52,171.48 205.88,174.91" stroke="#7570B3" stroke-width="0.86"/>
<polyline points="129.56,112.2 135.92,112.2 142.28,113.54 148.64,117.91 155,119.63 161.36,121.61 167.72,131.55 174.08,143.02 180.44,153.07 186.8,163.89 193.16,167.37 199.52,172.44 205.88,173.35" stroke="#7570B3" stroke-width="0.86"/>
<polyline points="129.56,112.2 135.92,112.2 142.28,114.47 148.64,120.35 155,122.03 161.36,125.01 167.72,135.21 174.08,146.34 180.44,157.32 186.8,168.89 193.16,173.23 199.52,179.13 205.88,180.41" stroke="#7570B3" stroke-width="0.86"/>
<polyline points="129.56,112.2 135.92,112.2 142.28,114.09 148.64,120.66 155,121.47 161.36,116.13 167.72,122.1 174.08,131.05 180.44,135.25 186.8,141.68 193.16,131.56 199.52,137.36 205.88,132.52" stroke="#E7298A" stroke-width="0.86"/>
<polyline points="129.56,112.2 135.92,112.2 142.28,114.04 148.64,119.99 155,120.86 161.36,115.9 167.72,121.37 174.08,132.66 180.44,133.13 186.8,140.94 193.16,138.28 199.52,135.44 205.88,133" stroke="#E7298A" stroke-width="0.86"/>
<polyline points="129.56,112.2 135.92,112.2 142.28,113.74 148.64,119.44 155,120.1 161.36,116.69 167.72,122.82 174.08,133.77 180.44,139.14 186.8,138.34 193.16,137.58 199.52,134.44 205.88,121.17" stroke="#E7298A" stroke-width="0.86"/>
<polyline points="129.56,112.2 135.92,112.2 142.28,114.44 148.64,119.84 155,121.53 161.36,118.14 167.72,125 174.08,133.2 180.44,136.23 186.8,142.98 193.16,134.23 199.52,134.36 205.88,122.22" stroke="#E7298A" stroke-width="0.86"/>
<polyline points="129.56,112.2 135.92,112.2 142.28,114.33 148.64,122.32 155,121.69 161.36,115.69 167.72,122.06 174.08,136.48 180.44,135.83 186.8,145.28 193.16,140.64 199.52,136.01 205.88,129.25" stroke="#E7298A" stroke-width="0.86"/>
<polyline points="129.56,112.2 135.92,112.2 142.28,114.39 148.64,119.58 155,120.93 161.36,116.81 167.72,119.24 174.08,133.21 180.44,136.31 186.8,145.11 193.16,138.5 199.52,135.94 205.88,135.29" stroke="#E7298A" stroke-width="0.86"/>
<polyline points="129.56,112.2 135.92,112.2 142.28,113.22 148.64,116.71 155,120.01 161.36,114.55 167.72,115.36 174.08,128.13 180.44,132.63 186.8,138.11 193.16,137.82 199.52,138.54 205.88,130.07" stroke="#E7298A" stroke-width="0.86"/>
<polyline points="129.56,112.2 135.92,112.2 142.28,113.85 148.64,118.47 155,120.29 161.36,117.56 167.72,123.8 174.08,131.38 180.44,138.46 186.8,145.83 193.16,140.11 199.52,136.64 205.88,131.42" stroke="#E7298A" stroke-width="0.86"/>
<polyline points="129.56,112.2 135.92,112.2 142.28,113.55 148.64,118.02 155,120.52 161.36,115.52 167.72,120.71 174.08,130.14 180.44,133.87 186.8,141 193.16,137.33 199.52,131.78 205.88,131.38" stroke="#E7298A" stroke-width="0.86"/>
<polyline points="129.56,112.2 135.92,112.2 142.28,115.51 148.64,120.73 155,121.17 161.36,120.34 167.72,129.68 174.08,136.67 180.44,137.67 186.8,144.84 193.16,135.59 199.52,138.52 205.88,134.9" stroke="#E7298A" stroke-width="0.86"/>
<polyline points="129.56,112.2 135.92,112.2 142.28,114.09 148.64,118.94 155,121.31 161.36,118.93 167.72,126.64 174.08,130.11 180.44,133.11 186.8,138.46 193.16,138.72 199.52,134.96 205.88,127.96" stroke="#E7298A" stroke-width="0.86"/>
<polyline points="129.56,112.2 135.92,112.2 142.28,113.92 148.64,120.34 155,120.95 161.36,117.01 167.72,120.1 174.08,132.27 180.44,139.65 186.8,142.02 193.16,138.19 199.52,137.42 205.88,133.74" stroke="#E7298A" stroke-width="0.86"/>
<polyline points="129.56,112.2 135.92,112.2 142.28,114.35 148.64,119.69 155,121.57 161.36,123.53 167.72,140.66 174.08,146 180.44,159.84 186.8,175 193.16,176.37 199.52,184.46 205.88,184.92" stroke="#E7298A" stroke-width="0.86"/>
<polyline points="129.56,112.2 135.92,112.2 142.28,113.82 148.64,118.85 155,120.69 161.36,122.31 167.72,137.86 174.08,145.62 180.44,158.9 186.8,175.25 193.16,175.14 199.52,181.92 205.88,185.06" stroke="#E7298A" stroke-width="0.86"/>
<polyline points="129.56,112.2 135.92,112.2 142.28,114.72 148.64,120.19 155,121.74 161.36,123.94 167.72,140.67 174.08,147.89 180.44,163.49 186.8,180.43 193.16,181.26 199.52,189.3 205.88,191.19" stroke="#E7298A" stroke-width="0.86"/>
<polyline points="129.56,112.2 135.92,112.2 142.28,114.09 148.64,119.8 155,121.26 161.36,123.49 167.72,139.35 174.08,146.74 180.44,161.71 186.8,180.17 193.16,179.34 199.52,184.17 205.88,187.22" stroke="#E7298A" stroke-width="0.86"/>
<polyline points="129.56,112.2 135.92,112.2 142.28,114.2 148.64,119.67 155,121.64 161.36,124.19 167.72,141.21 174.08,146.91 180.44,162.04 186.8,177.35 193.16,178.26 199.52,186.13 205.88,184.34" stroke="#E7298A" stroke-width="0.86"/>
<polyline points="129.56,112.2 205.88,112.2" stroke="#E7298A" stroke-width="0.98"/>
</g>
<text x="40.7" y="48.1" font-size="8.7" font-family="Liberation Sans, sans-serif" font-weight="bold" stroke="#000" stroke-width="0.22">Ni DS slope</text>
<text x="40.9" y="57.5" font-size="8.7" font-family="Liberation Sans, sans-serif" font-weight="bold" stroke="#000" stroke-width="0.22">% of hist.</text>
<line x1="41.2" x2="54.2" y1="63.9" y2="63.9" stroke="#1B9E77" stroke-width="2.9" stroke-linecap="round"/>
<text x="60.5" y="67.1" font-size="9.0" font-family="Liberation Sans, sans-serif" font-weight="bold" stroke="#000" stroke-width="0.22">−50</text>
<line x1="41.2" x2="54.2" y1="73.65" y2="73.65" stroke="#D95F02" stroke-width="2.9" stroke-linecap="round"/>
<text x="60.5" y="76.85" font-size="9.0" font-family="Liberation Sans, sans-serif" font-weight="bold" stroke="#000" stroke-width="0.22">−25</text>
<line x1="41.2" x2="54.2" y1="83.4" y2="83.4" stroke="#7570B3" stroke-width="2.9" stroke-linecap="round"/>
<text x="60.5" y="86.6" font-size="9.0" font-family="Liberation Sans, sans-serif" font-weight="bold" stroke="#000" stroke-width="0.22">+50</text>
<line x1="41.2" x2="54.2" y1="93.15" y2="93.15" stroke="#E7298A" stroke-width="2.9" stroke-linecap="round"/>
<text x="60.5" y="96.35" font-size="9.0" font-family="Liberation Sans, sans-serif" font-weight="bold" stroke="#000" stroke-width="0.22">+100</text>
<rect x="33.1" y="33.9" width="176.9" height="172.7" fill="none" stroke="#000" stroke-width="1.7"/>
<line x1="124.85" x2="124.85" y1="33.9" y2="206.6" stroke="#000" stroke-width="2.4"/>
<line x1="33.1" x2="36.5" y1="184.2" y2="184.2" stroke="#000" stroke-width="1.1"/>
<text x="31.1" y="187.65" font-size="9.7" text-anchor="end" font-family="Liberation Sans, sans-serif" font-weight="bold" stroke="#000" stroke-width="0.05">−40</text>
<line x1="33.1" x2="36.5" y1="148.2" y2="148.2" stroke="#000" stroke-width="1.1"/>
<text x="31.1" y="151.65" font-size="9.7" text-anchor="end" font-family="Liberation Sans, sans-serif" font-weight="bold" stroke="#000" stroke-width="0.05">−20</text>
<line x1="33.1" x2="36.5" y1="112.2" y2="112.2" stroke="#000" stroke-width="1.1"/>
<text x="31.1" y="115.65" font-size="9.7" text-anchor="end" font-family="Liberation Sans, sans-serif" font-weight="bold" stroke="#000" stroke-width="0.05">0</text>
<line x1="33.1" x2="36.5" y1="76.2" y2="76.2" stroke="#000" stroke-width="1.1"/>
<text x="31.1" y="79.65" font-size="9.7" text-anchor="end" font-family="Liberation Sans, sans-serif" font-weight="bold" stroke="#000" stroke-width="0.05">20</text>
<line x1="33.1" x2="36.5" y1="40.2" y2="40.2" stroke="#000" stroke-width="1.1"/>
<text x="31.1" y="43.65" font-size="9.7" text-anchor="end" font-family="Liberation Sans, sans-serif" font-weight="bold" stroke="#000" stroke-width="0.05">40</text>
<line x1="65" x2="65" y1="206.6" y2="203.2" stroke="#000" stroke-width="1.1"/>
<text x="65" y="215.2" font-size="9.8" text-anchor="middle" font-family="Liberation Sans, sans-serif" font-weight="bold" stroke="#000" stroke-width="0.05">2025</text>
<line x1="155" x2="155" y1="206.6" y2="203.2" stroke="#000" stroke-width="1.1"/>
<text x="155" y="215.2" font-size="9.8" text-anchor="middle" font-family="Liberation Sans, sans-serif" font-weight="bold" stroke="#000" stroke-width="0.05">2025</text>
<line x1="99.6" x2="99.6" y1="206.6" y2="203.2" stroke="#000" stroke-width="1.1"/>
<text x="99.6" y="215.2" font-size="9.8" text-anchor="middle" font-family="Liberation Sans, sans-serif" font-weight="bold" stroke="#000" stroke-width="0.05">2030</text>
<line x1="186.8" x2="186.8" y1="206.6" y2="203.2" stroke="#000" stroke-width="1.1"/>
<text x="186.8" y="215.2" font-size="9.8" text-anchor="middle" font-family="Liberation Sans, sans-serif" font-weight="bold" stroke="#000" stroke-width="0.05">2030</text>
<text x="78.97" y="226.2" font-size="9.9" text-anchor="middle" font-family="Liberation Sans, sans-serif" font-weight="bold" stroke="#000" stroke-width="0.22">Year</text>
<text x="167.43" y="226.2" font-size="9.9" text-anchor="middle" font-family="Liberation Sans, sans-serif" font-weight="bold" stroke="#000" stroke-width="0.22">Year</text>
<text x="78.38" y="30.7" font-size="10.5" text-anchor="middle" font-family="Liberation Sans, sans-serif" font-weight="bold" stroke="#000" stroke-width="0.22">4D</text>
<text x="167.62" y="30.7" font-size="10.5" text-anchor="middle" font-family="Liberation Sans, sans-serif" font-weight="bold" stroke="#000" stroke-width="0.22">2D</text>
<text x="121.15" y="8.1" font-size="10.6" text-anchor="middle" font-family="Liberation Sans, sans-serif" font-weight="bold" stroke="#000" stroke-width="0.22">Change in cobalt price due to</text>
<text x="121.15" y="19.9" font-size="10.6" text-anchor="middle" font-family="Liberation Sans, sans-serif" font-weight="bold" stroke="#000" stroke-width="0.22">nickel demand shifter change</text>
<text x="-0.6" y="7.8" font-size="9.6" font-family="Liberation Sans, sans-serif" font-weight="bold" stroke="#000" stroke-width="0.22">g)</text>
<text transform="translate(10.55,120.25) rotate(-90)" font-size="9.8" text-anchor="middle" font-family="Liberation Sans, sans-serif" font-weight="bold" stroke="#000" stroke-width="0.22">% change in PRICE, rel. 2020</text>
</g>
<g transform="translate(237.3,473.45)">
<line x1="33.1" x2="210" y1="205.3" y2="205.3" stroke="#F1F1F1" stroke-width="1.1"/>
<line x1="33.1" x2="210" y1="173.1" y2="173.1" stroke="#F1F1F1" stroke-width="1.1"/>
<line x1="33.1" x2="210" y1="140.9" y2="140.9" stroke="#F1F1F1" stroke-width="1.1"/>
<line x1="33.1" x2="210" y1="108.7" y2="108.7" stroke="#F1F1F1" stroke-width="1.1"/>
<line x1="33.1" x2="210" y1="76.5" y2="76.5" stroke="#F1F1F1" stroke-width="1.1"/>
<line x1="33.1" x2="210" y1="44.3" y2="44.3" stroke="#F1F1F1" stroke-width="1.1"/>
<line x1="65" x2="65" y1="33.9" y2="206.6" stroke="#F1F1F1" stroke-width="1.1"/>
<line x1="155" x2="155" y1="33.9" y2="206.6" stroke="#F1F1F1" stroke-width="1.1"/>
<line x1="99.6" x2="99.6" y1="33.9" y2="206.6" stroke="#F1F1F1" stroke-width="1.1"/>
<line x1="186.8" x2="186.8" y1="33.9" y2="206.6" stroke="#F1F1F1" stroke-width="1.1"/>
<g fill="none" stroke-linejoin="round" stroke-linecap="round">
<polyline points="37.32,140.9 106.52,140.9 113.44,136.07 120.36,140.9" stroke="#1B9E77" stroke-width="0.86"/>
<polyline points="37.32,140.9 120.36,140.9" stroke="#1B9E77" stroke-width="0.86"/>
<polyline points="37.32,140.9 78.84,140.9 85.76,133.66 92.68,140.9 99.6,140.9 106.52,131.24 113.44,140.9 120.36,140.9" stroke="#D95F02" stroke-width="0.86"/>
<polyline points="37.32,140.9 106.52,140.9 113.44,129.95 120.36,140.9" stroke="#7570B3" stroke-width="0.86"/>
<polyline points="37.32,140.9 99.6,140.9 113.44,144.12 120.36,140.9" stroke="#7570B3" stroke-width="0.86"/>
<polyline points="37.32,140.9 51.16,140.9 58.08,137.68 65,140.9 92.68,140.9 99.6,108.7 106.52,108.7 113.44,140.9 120.36,140.9" stroke="#E7298A" stroke-width="0.86"/>
<polyline points="37.32,140.9 51.16,140.9 58.08,138.49 65,142.51 71.92,148.15 78.84,142.51 85.76,139.29 92.68,140.9 99.6,115.14 106.52,140.9 113.44,144.12 120.36,142.51" stroke="#E7298A" stroke-width="0.86"/>
<polyline points="37.32,140.9 58.08,140.9 65,141.87 71.92,146.53 78.84,141.71 85.76,140.9 92.68,142.51 99.6,146.37 106.52,128.34 113.44,147.82 120.36,144.12" stroke="#E7298A" stroke-width="0.86"/>
<polyline points="37.32,140.9 65,140.9 71.92,142.51 78.84,140.9 85.76,142.51 92.68,140.09 99.6,119.97 106.52,149.59 113.44,145.73 120.36,140.9" stroke="#E7298A" stroke-width="0.86"/>
<polyline points="37.32,140.9 51.16,140.9 58.08,140.09 65,141.71 71.92,140.09 78.84,140.9 85.76,144.12 92.68,143.31 99.6,144.93 106.52,143.31 113.44,142.51 120.36,144.12" stroke="#E7298A" stroke-width="0.86"/>
<polyline points="37.32,140.9 51.16,140.9 58.08,139.29 65,140.9 71.92,144.12 78.84,141.71 85.76,142.51 92.68,141.71 99.6,142.51 106.52,145.73 113.44,143.31 120.36,141.71" stroke="#E7298A" stroke-width="0.86"/>
<polyline points="37.32,140.9 120.36,140.9" stroke="#E7298A" stroke-width="0.98"/>
<polyline points="129.56,140.9 135.92,139.29 142.28,140.9 155,140.9 161.36,139.29 167.72,129.63 174.08,136.07 180.44,145.73 186.8,115.14 193.16,76.5 199.52,53.96 205.88,42.69" stroke="#1B9E77" stroke-width="1.03"/>
<polyline points="129.56,140.9 135.92,140.09 142.28,140.9 161.36,140.9 167.72,134.46 174.08,140.9 180.44,140.9 186.8,137.68 193.16,137.68 199.52,136.07 205.88,140.9" stroke="#1B9E77" stroke-width="1.03"/>
<polyline points="129.56,140.9 155,140.9 161.36,139.29 167.72,136.88 174.08,140.9 180.44,145.73 186.8,147.34 193.16,152.17 199.52,153.78 205.88,156.19" stroke="#D95F02" stroke-width="1.03"/>
<polyline points="129.56,140.9 161.36,140.9 167.72,145.73 174.08,148.95 180.44,160.22 186.8,161.83 193.16,173.1 199.52,181.15 205.88,183.56" stroke="#7570B3" stroke-width="1.03"/>
<polyline points="129.56,140.9 161.36,140.9 167.72,144.12 174.08,148.95 180.44,165.05 186.8,169.88 193.16,184.37 199.52,194.03 205.88,198.86" stroke="#E7298A" stroke-width="1.03"/>
<polyline points="129.56,140.9 161.36,140.9 167.72,139.29 174.08,140.9 180.44,144.12 186.8,142.51 199.52,142.51 205.88,144.12" stroke="#E7298A" stroke-width="1.03"/>
</g>
<text x="40.7" y="48.1" font-size="8.7" font-family="Liberation Sans, sans-serif" font-weight="bold" stroke="#000" stroke-width="0.22">Ni DS slope</text>
<text x="40.9" y="57.5" font-size="8.7" font-family="Liberation Sans, sans-serif" font-weight="bold" stroke="#000" stroke-width="0.22">% of hist.</text>
<line x1="41.2" x2="54.2" y1="63.9" y2="63.9" stroke="#1B9E77" stroke-width="2.9" stroke-linecap="round"/>
<text x="60.5" y="67.1" font-size="9.0" font-family="Liberation Sans, sans-serif" font-weight="bold" stroke="#000" stroke-width="0.22">−50</text>
<line x1="41.2" x2="54.2" y1="73.65" y2="73.65" stroke="#D95F02" stroke-width="2.9" stroke-linecap="round"/>
<text x="60.5" y="76.85" font-size="9.0" font-family="Liberation Sans, sans-serif" font-weight="bold" stroke="#000" stroke-width="0.22">−25</text>
<line x1="41.2" x2="54.2" y1="83.4" y2="83.4" stroke="#7570B3" stroke-width="2.9" stroke-linecap="round"/>
<text x="60.5" y="86.6" font-size="9.0" font-family="Liberation Sans, sans-serif" font-weight="bold" stroke="#000" stroke-width="0.22">+50</text>
<line x1="41.2" x2="54.2" y1="93.15" y2="93.15" stroke="#E7298A" stroke-width="2.9" stroke-linecap="round"/>
<text x="60.5" y="96.35" font-size="9.0" font-family="Liberation Sans, sans-serif" font-weight="bold" stroke="#000" stroke-width="0.22">+100</text>
<rect x="33.1" y="33.9" width="176.9" height="172.7" fill="none" stroke="#000" stroke-width="1.7"/>
<line x1="124.85" x2="124.85" y1="33.9" y2="206.6" stroke="#000" stroke-width="2.4"/>
<line x1="33.1" x2="36.5" y1="205.3" y2="205.3" stroke="#000" stroke-width="1.1"/>
<text x="31.1" y="208.75" font-size="9.7" text-anchor="end" font-family="Liberation Sans, sans-serif" font-weight="bold" stroke="#000" stroke-width="0.05">−40</text>
<line x1="33.1" x2="36.5" y1="173.1" y2="173.1" stroke="#000" stroke-width="1.1"/>
<text x="31.1" y="176.55" font-size="9.7" text-anchor="end" font-family="Liberation Sans, sans-serif" font-weight="bold" stroke="#000" stroke-width="0.05">−20</text>
<line x1="33.1" x2="36.5" y1="140.9" y2="140.9" stroke="#000" stroke-width="1.1"/>
<text x="31.1" y="144.35" font-size="9.7" text-anchor="end" font-family="Liberation Sans, sans-serif" font-weight="bold" stroke="#000" stroke-width="0.05">0</text>
<line x1="33.1" x2="36.5" y1="108.7" y2="108.7" stroke="#000" stroke-width="1.1"/>
<text x="31.1" y="112.15" font-size="9.7" text-anchor="end" font-family="Liberation Sans, sans-serif" font-weight="bold" stroke="#000" stroke-width="0.05">20</text>
<line x1="33.1" x2="36.5" y1="76.5" y2="76.5" stroke="#000" stroke-width="1.1"/>
<text x="31.1" y="79.95" font-size="9.7" text-anchor="end" font-family="Liberation Sans, sans-serif" font-weight="bold" stroke="#000" stroke-width="0.05">40</text>
<line x1="33.1" x2="36.5" y1="44.3" y2="44.3" stroke="#000" stroke-width="1.1"/>
<text x="31.1" y="47.75" font-size="9.7" text-anchor="end" font-family="Liberation Sans, sans-serif" font-weight="bold" stroke="#000" stroke-width="0.05">60</text>
<line x1="65" x2="65" y1="206.6" y2="203.2" stroke="#000" stroke-width="1.1"/>
<text x="65" y="215.2" font-size="9.8" text-anchor="middle" font-family="Liberation Sans, sans-serif" font-weight="bold" stroke="#000" stroke-width="0.05">2025</text>
<line x1="155" x2="155" y1="206.6" y2="203.2" stroke="#000" stroke-width="1.1"/>
<text x="155" y="215.2" font-size="9.8" text-anchor="middle" font-family="Liberation Sans, sans-serif" font-weight="bold" stroke="#000" stroke-width="0.05">2025</text>
<line x1="99.6" x2="99.6" y1="206.6" y2="203.2" stroke="#000" stroke-width="1.1"/>
<text x="99.6" y="215.2" font-size="9.8" text-anchor="middle" font-family="Liberation Sans, sans-serif" font-weight="bold" stroke="#000" stroke-width="0.05">2030</text>
<line x1="186.8" x2="186.8" y1="206.6" y2="203.2" stroke="#000" stroke-width="1.1"/>
<text x="186.8" y="215.2" font-size="9.8" text-anchor="middle" font-family="Liberation Sans, sans-serif" font-weight="bold" stroke="#000" stroke-width="0.05">2030</text>
<text x="78.97" y="226.2" font-size="9.9" text-anchor="middle" font-family="Liberation Sans, sans-serif" font-weight="bold" stroke="#000" stroke-width="0.22">Year</text>
<text x="167.43" y="226.2" font-size="9.9" text-anchor="middle" font-family="Liberation Sans, sans-serif" font-weight="bold" stroke="#000" stroke-width="0.22">Year</text>
<text x="78.38" y="30.7" font-size="10.5" text-anchor="middle" font-family="Liberation Sans, sans-serif" font-weight="bold" stroke="#000" stroke-width="0.22">4D</text>
<text x="167.62" y="30.7" font-size="10.5" text-anchor="middle" font-family="Liberation Sans, sans-serif" font-weight="bold" stroke="#000" stroke-width="0.22">2D</text>
<text x="121.15" y="8.1" font-size="10.6" text-anchor="middle" font-family="Liberation Sans, sans-serif" font-weight="bold" stroke="#000" stroke-width="0.22">Change in copper price due to</text>
<text x="121.15" y="19.9" font-size="10.6" text-anchor="middle" font-family="Liberation Sans, sans-serif" font-weight="bold" stroke="#000" stroke-width="0.22">nickel demand shifter change</text>
<text x="-0.6" y="7.8" font-size="9.6" font-family="Liberation Sans, sans-serif" font-weight="bold" stroke="#000" stroke-width="0.22">h)</text>
<text transform="translate(10.55,120.25) rotate(-90)" font-size="9.8" text-anchor="middle" font-family="Liberation Sans, sans-serif" font-weight="bold" stroke="#000" stroke-width="0.22">% change in PRICE, rel. 2020</text>
</g>
<g transform="translate(474.5,473.45)">
<line x1="33.1" x2="210" y1="187.3" y2="187.3" stroke="#F1F1F1" stroke-width="1.1"/>
<line x1="33.1" x2="210" y1="160.48" y2="160.48" stroke="#F1F1F1" stroke-width="1.1"/>
<line x1="33.1" x2="210" y1="133.65" y2="133.65" stroke="#F1F1F1" stroke-width="1.1"/>
<line x1="33.1" x2="210" y1="106.83" y2="106.83" stroke="#F1F1F1" stroke-width="1.1"/>
<line x1="33.1" x2="210" y1="80" y2="80" stroke="#F1F1F1" stroke-width="1.1"/>
<line x1="33.1" x2="210" y1="53.18" y2="53.18" stroke="#F1F1F1" stroke-width="1.1"/>
<line x1="65" x2="65" y1="33.9" y2="206.6" stroke="#F1F1F1" stroke-width="1.1"/>
<line x1="155" x2="155" y1="33.9" y2="206.6" stroke="#F1F1F1" stroke-width="1.1"/>
<line x1="99.6" x2="99.6" y1="33.9" y2="206.6" stroke="#F1F1F1" stroke-width="1.1"/>
<line x1="186.8" x2="186.8" y1="33.9" y2="206.6" stroke="#F1F1F1" stroke-width="1.1"/>
<g fill="none" stroke-linejoin="round" stroke-linecap="round">
<polyline points="37.32,187.3 44.24,192.67 51.16,198.67 58.08,189.45 65,189.98 71.92,189.66 78.84,189.45 85.76,189.45 92.68,189.23 99.6,188.59 106.52,188.8 113.44,188.91 120.36,189.23" stroke="#1B9E77" stroke-width="1.03"/>
<polyline points="37.32,187.3 51.16,193.74 58.08,188.91 65,188.91 71.92,188.59 78.84,188.59 85.76,188.37 92.68,188.37 99.6,188.16 113.44,188.37 120.36,188.59" stroke="#D95F02" stroke-width="1.03"/>
<polyline points="37.32,187.3 120.36,187.3" stroke="#7570B3" stroke-width="1.03" stroke-opacity="0.45"/>
<polyline points="37.32,187.3 44.24,178.72 51.16,169.49 58.08,177.64 65,183.12 71.92,181.4 78.84,181.94 85.76,181.4 92.68,183.12 99.6,183.87 106.52,183.54 113.44,180.65 120.36,176.89" stroke="#7570B3" stroke-width="1.15"/>
<polyline points="37.32,187.3 44.24,169.49 51.16,142.34 58.08,166.59 65,173.67 71.92,164.55 78.84,160.15 85.76,149.75 92.68,162.62 99.6,154.68 106.52,139.87 113.44,79.25 120.36,48.35" stroke="#E7298A" stroke-width="1.15"/>
<polyline points="37.32,187.3 44.24,169.49 51.16,142.34 58.08,166.59 65,173.67 71.92,173.67 78.84,160.15 85.76,149.75 92.68,162.62 99.6,162.62 106.52,127.21 113.44,68.2 120.36,41.69" stroke="#E7298A" stroke-width="1.15"/>
<polyline points="129.56,187.3 135.92,192.99 142.28,194.7 148.64,188.8 155,188.91 161.36,188.8 167.72,188.91 174.08,188.91 180.44,188.8 186.8,188.91 193.16,188.91 199.52,189.02 205.88,189.23" stroke="#1B9E77" stroke-width="1.03"/>
<polyline points="129.56,187.3 135.92,189.77 142.28,191.27 148.64,188.37 167.72,188.05 174.08,188.05 180.44,188.16 193.16,188.16 205.88,188.37" stroke="#D95F02" stroke-width="1.03"/>
<polyline points="129.56,187.3 135.92,179.36 142.28,175.18 148.64,183.12 155,185.05 161.36,184.72 167.72,184.62 174.08,184.08 180.44,184.94 186.8,184.72 193.16,184.62 199.52,183.87 205.88,182.9" stroke="#7570B3" stroke-width="1.03"/>
<polyline points="129.56,187.3 135.92,170.78 142.28,156.4 148.64,172.71 155,174.96 161.36,169.06 167.72,163.8 174.08,156.4 180.44,170.02 186.8,166.27 193.16,154.68 199.52,127.53 205.88,79.36" stroke="#E7298A" stroke-width="1.15"/>
</g>
<text x="40.7" y="48.1" font-size="8.7" font-family="Liberation Sans, sans-serif" font-weight="bold" stroke="#000" stroke-width="0.22">Ni DS slope</text>
<text x="40.9" y="57.5" font-size="8.7" font-family="Liberation Sans, sans-serif" font-weight="bold" stroke="#000" stroke-width="0.22">% of hist.</text>
<line x1="41.2" x2="54.2" y1="63.9" y2="63.9" stroke="#1B9E77" stroke-width="2.9" stroke-linecap="round"/>
<text x="60.5" y="67.1" font-size="9.0" font-family="Liberation Sans, sans-serif" font-weight="bold" stroke="#000" stroke-width="0.22">−50</text>
<line x1="41.2" x2="54.2" y1="73.65" y2="73.65" stroke="#D95F02" stroke-width="2.9" stroke-linecap="round"/>
<text x="60.5" y="76.85" font-size="9.0" font-family="Liberation Sans, sans-serif" font-weight="bold" stroke="#000" stroke-width="0.22">−25</text>
<line x1="41.2" x2="54.2" y1="83.4" y2="83.4" stroke="#7570B3" stroke-width="2.9" stroke-linecap="round"/>
<text x="60.5" y="86.6" font-size="9.0" font-family="Liberation Sans, sans-serif" font-weight="bold" stroke="#000" stroke-width="0.22">+50</text>
<line x1="41.2" x2="54.2" y1="93.15" y2="93.15" stroke="#E7298A" stroke-width="2.9" stroke-linecap="round"/>
<text x="60.5" y="96.35" font-size="9.0" font-family="Liberation Sans, sans-serif" font-weight="bold" stroke="#000" stroke-width="0.22">+100</text>
<rect x="33.1" y="33.9" width="176.9" height="172.7" fill="none" stroke="#000" stroke-width="1.7"/>
<line x1="124.85" x2="124.85" y1="33.9" y2="206.6" stroke="#000" stroke-width="2.4"/>
<line x1="33.1" x2="36.5" y1="187.3" y2="187.3" stroke="#000" stroke-width="1.1"/>
<text x="31.1" y="190.75" font-size="9.7" text-anchor="end" font-family="Liberation Sans, sans-serif" font-weight="bold" stroke="#000" stroke-width="0.05">0</text>
<line x1="33.1" x2="36.5" y1="160.48" y2="160.48" stroke="#000" stroke-width="1.1"/>
<text x="31.1" y="163.93" font-size="9.7" text-anchor="end" font-family="Liberation Sans, sans-serif" font-weight="bold" stroke="#000" stroke-width="0.05">250</text>
<line x1="33.1" x2="36.5" y1="133.65" y2="133.65" stroke="#000" stroke-width="1.1"/>
<text x="31.1" y="137.1" font-size="9.7" text-anchor="end" font-family="Liberation Sans, sans-serif" font-weight="bold" stroke="#000" stroke-width="0.05">500</text>
<line x1="33.1" x2="36.5" y1="106.83" y2="106.83" stroke="#000" stroke-width="1.1"/>
<text x="31.1" y="110.28" font-size="9.7" text-anchor="end" font-family="Liberation Sans, sans-serif" font-weight="bold" stroke="#000" stroke-width="0.05">750</text>
<line x1="33.1" x2="36.5" y1="80" y2="80" stroke="#000" stroke-width="1.1"/>
<text x="31.1" y="83.45" font-size="9.7" text-anchor="end" font-family="Liberation Sans, sans-serif" font-weight="bold" stroke="#000" stroke-width="0.05">1000</text>
<line x1="33.1" x2="36.5" y1="53.18" y2="53.18" stroke="#000" stroke-width="1.1"/>
<text x="31.1" y="56.63" font-size="9.7" text-anchor="end" font-family="Liberation Sans, sans-serif" font-weight="bold" stroke="#000" stroke-width="0.05">1250</text>
<line x1="65" x2="65" y1="206.6" y2="203.2" stroke="#000" stroke-width="1.1"/>
<text x="65" y="215.2" font-size="9.8" text-anchor="middle" font-family="Liberation Sans, sans-serif" font-weight="bold" stroke="#000" stroke-width="0.05">2025</text>
<line x1="155" x2="155" y1="206.6" y2="203.2" stroke="#000" stroke-width="1.1"/>
<text x="155" y="215.2" font-size="9.8" text-anchor="middle" font-family="Liberation Sans, sans-serif" font-weight="bold" stroke="#000" stroke-width="0.05">2025</text>
<line x1="99.6" x2="99.6" y1="206.6" y2="203.2" stroke="#000" stroke-width="1.1"/>
<text x="99.6" y="215.2" font-size="9.8" text-anchor="middle" font-family="Liberation Sans, sans-serif" font-weight="bold" stroke="#000" stroke-width="0.05">2030</text>
<line x1="186.8" x2="186.8" y1="206.6" y2="203.2" stroke="#000" stroke-width="1.1"/>
<text x="186.8" y="215.2" font-size="9.8" text-anchor="middle" font-family="Liberation Sans, sans-serif" font-weight="bold" stroke="#000" stroke-width="0.05">2030</text>
<text x="78.97" y="226.2" font-size="9.9" text-anchor="middle" font-family="Liberation Sans, sans-serif" font-weight="bold" stroke="#000" stroke-width="0.22">Year</text>
<text x="167.43" y="226.2" font-size="9.9" text-anchor="middle" font-family="Liberation Sans, sans-serif" font-weight="bold" stroke="#000" stroke-width="0.22">Year</text>
<text x="78.38" y="30.7" font-size="10.5" text-anchor="middle" font-family="Liberation Sans, sans-serif" font-weight="bold" stroke="#000" stroke-width="0.22">4D</text>
<text x="167.62" y="30.7" font-size="10.5" text-anchor="middle" font-family="Liberation Sans, sans-serif" font-weight="bold" stroke="#000" stroke-width="0.22">2D</text>
<text x="121.15" y="8.1" font-size="10.6" text-anchor="middle" font-family="Liberation Sans, sans-serif" font-weight="bold" stroke="#000" stroke-width="0.22">Change in nickel price due to</text>
<text x="121.15" y="19.9" font-size="10.6" text-anchor="middle" font-family="Liberation Sans, sans-serif" font-weight="bold" stroke="#000" stroke-width="0.22">nickel demand shifter change</text>
<text x="-0.6" y="7.8" font-size="9.6" font-family="Liberation Sans, sans-serif" font-weight="bold" stroke="#000" stroke-width="0.22">i)</text>
<text transform="translate(5.42,120.25) rotate(-90)" font-size="9.8" text-anchor="middle" font-family="Liberation Sans, sans-serif" font-weight="bold" stroke="#000" stroke-width="0.22">% change in PRICE, rel. 2020</text>
</g>
</svg>
</body></html>
